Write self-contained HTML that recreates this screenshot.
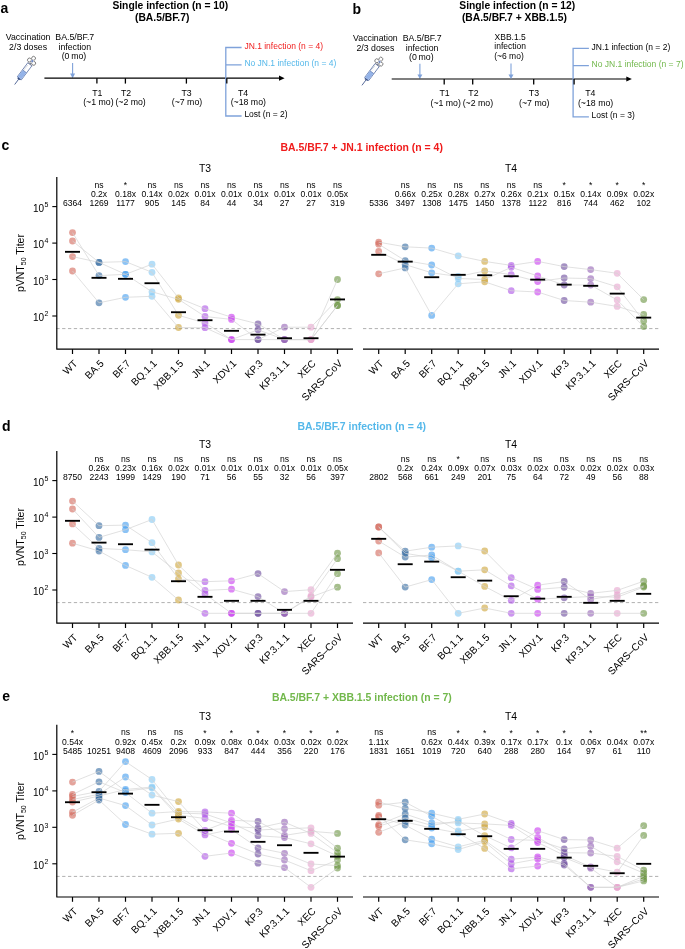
<!DOCTYPE html>
<html><head><meta charset="utf-8"><style>
html,body{margin:0;padding:0;background:#fff;}
svg{display:block;will-change:transform;}
text{font-family:"Liberation Sans", sans-serif;}
</style></head><body>
<svg width="685" height="949" viewBox="0 0 685 949" font-family='"Liberation Sans", sans-serif'>
<rect width="685" height="949" fill="#fff"/>
<text x="0.40" y="13.40" font-size="14" text-anchor="start" font-weight="bold" fill="#000" >a</text>
<text x="112.40" y="9.00" font-size="10.3" text-anchor="start" font-weight="bold" fill="#000" >Single infection (n = 10)</text>
<text x="135.00" y="20.60" font-size="10.3" text-anchor="start" font-weight="bold" fill="#000" >(BA.5/BF.7)</text>
<text x="28.10" y="40.30" font-size="8.75" text-anchor="middle" font-weight="normal" fill="#000" >Vaccination</text>
<text x="28.10" y="49.70" font-size="8.75" text-anchor="middle" font-weight="normal" fill="#000" >2/3 doses</text>
<text x="74.80" y="40.30" font-size="8.75" text-anchor="middle" font-weight="normal" fill="#000" >BA.5/BF.7</text>
<text x="74.80" y="49.70" font-size="8.75" text-anchor="middle" font-weight="normal" fill="#000" >infection</text>
<text x="74.00" y="58.90" font-size="8.75" text-anchor="middle" font-weight="normal" fill="#000" >(0 mo)</text>
<line x1="72.60" y1="63.00" x2="72.60" y2="74.70" stroke="#7fa2da" stroke-width="1.1" />
<path d="M70.10,73.60 L75.10,73.60 L72.60,78.20 Z" fill="#7fa2da"/>
<line x1="44.40" y1="78.20" x2="280.00" y2="78.20" stroke="#000" stroke-width="1.2" />
<path d="M279.00,75.60 L284.60,78.20 L279.00,80.80 Z" fill="#000"/>
<line x1="96.90" y1="78.20" x2="96.90" y2="83.60" stroke="#000" stroke-width="1.3" />
<text x="97.30" y="95.60" font-size="8.75" text-anchor="middle" font-weight="normal" fill="#000" >T1</text>
<text x="98.40" y="104.90" font-size="8.75" text-anchor="middle" font-weight="normal" fill="#000" >(~1 mo)</text>
<line x1="125.40" y1="78.20" x2="125.40" y2="83.60" stroke="#000" stroke-width="1.3" />
<text x="126.10" y="95.60" font-size="8.75" text-anchor="middle" font-weight="normal" fill="#000" >T2</text>
<text x="130.60" y="104.90" font-size="8.75" text-anchor="middle" font-weight="normal" fill="#000" >(~2 mo)</text>
<line x1="186.40" y1="78.20" x2="186.40" y2="83.60" stroke="#000" stroke-width="1.3" />
<text x="186.60" y="95.60" font-size="8.75" text-anchor="middle" font-weight="normal" fill="#000" >T3</text>
<text x="187.00" y="104.90" font-size="8.75" text-anchor="middle" font-weight="normal" fill="#000" >(~7 mo)</text>
<path d="M241.60,47.50 H225.80 V116.00 H241.60 M225.80,64.80 H241.60" fill="none" stroke="#7fa2da" stroke-width="1.3"/>
<line x1="226.80" y1="78.20" x2="226.80" y2="83.60" stroke="#000" stroke-width="1.3" />
<text x="243.00" y="95.60" font-size="8.75" text-anchor="middle" font-weight="normal" fill="#000" >T4</text>
<text x="248.30" y="104.90" font-size="8.75" text-anchor="middle" font-weight="normal" fill="#000" >(~18 mo)</text>
<g transform="translate(19.4,78.2) rotate(-53.1)">
<line x1="-7.9" y1="0" x2="-1" y2="0" stroke="#4a5f92" stroke-width="0.85"/>
<rect x="-1.3" y="-1.8" width="1.8" height="3.6" fill="#30487e"/>
<rect x="0" y="-2.55" width="17.4" height="5.1" fill="#fff" stroke="#3f5a96" stroke-width="0.65"/>
<rect x="0.3" y="-2.25" width="8.3" height="4.5" fill="#94b3e8"/>
<line x1="8.6" y1="-2.4" x2="8.6" y2="2.4" stroke="#3f5a96" stroke-width="0.5"/>
<line x1="10.4" y1="-2.2" x2="10.4" y2="-0.8" stroke="#8a94a8" stroke-width="0.4"/>
<line x1="11.9" y1="-2.2" x2="11.9" y2="-0.8" stroke="#8a94a8" stroke-width="0.4"/>
<line x1="13.4" y1="-2.2" x2="13.4" y2="-0.8" stroke="#8a94a8" stroke-width="0.4"/>
<line x1="14.9" y1="-2.2" x2="14.9" y2="-0.8" stroke="#8a94a8" stroke-width="0.4"/>
<line x1="17.7" y1="-2.9" x2="17.7" y2="2.9" stroke="#7a8090" stroke-width="0.7"/>
<line x1="17.7" y1="0" x2="19.6" y2="0" stroke="#7a8090" stroke-width="1.2"/>
<circle cx="20.6" cy="-2.9" r="1.95" fill="#fff" stroke="#6e6e6e" stroke-width="0.8"/>
<circle cx="24.4" cy="-0.6" r="1.95" fill="#fff" stroke="#6e6e6e" stroke-width="0.8"/>
<circle cx="20.5" cy="2.5" r="1.95" fill="#fff" stroke="#6e6e6e" stroke-width="0.8"/>
<circle cx="21.4" cy="0" r="1.5" fill="#fff"/>
<circle cx="21.4" cy="0" r="1.15" fill="#6f88c2"/>
</g>
<text x="244.40" y="49.00" font-size="8.5" text-anchor="start" font-weight="normal" fill="#f01c1c" >JN.1 infection (n = 4)</text>
<text x="244.40" y="66.20" font-size="8.5" text-anchor="start" font-weight="normal" fill="#55b8ea" >No JN.1 infection (n = 4)</text>
<text x="244.40" y="117.40" font-size="8.5" text-anchor="start" font-weight="normal" fill="#000" >Lost (n = 2)</text>
<text x="352.60" y="14.00" font-size="14" text-anchor="start" font-weight="bold" fill="#000" >b</text>
<text x="459.30" y="9.20" font-size="10.3" text-anchor="start" font-weight="bold" fill="#000" >Single infection (n = 12)</text>
<text x="461.90" y="20.90" font-size="10.3" text-anchor="start" font-weight="bold" fill="#000" >(BA.5/BF.7 + XBB.1.5)</text>
<text x="375.40" y="41.10" font-size="8.75" text-anchor="middle" font-weight="normal" fill="#000" >Vaccination</text>
<text x="375.40" y="50.50" font-size="8.75" text-anchor="middle" font-weight="normal" fill="#000" >2/3 doses</text>
<text x="422.10" y="41.10" font-size="8.75" text-anchor="middle" font-weight="normal" fill="#000" >BA.5/BF.7</text>
<text x="422.10" y="50.50" font-size="8.75" text-anchor="middle" font-weight="normal" fill="#000" >infection</text>
<text x="421.30" y="59.70" font-size="8.75" text-anchor="middle" font-weight="normal" fill="#000" >(0 mo)</text>
<line x1="419.90" y1="63.80" x2="419.90" y2="75.50" stroke="#7fa2da" stroke-width="1.1" />
<path d="M417.40,74.40 L422.40,74.40 L419.90,79.00 Z" fill="#7fa2da"/>
<line x1="391.70" y1="79.00" x2="627.30" y2="79.00" stroke="#000" stroke-width="1.2" />
<path d="M626.30,76.40 L631.90,79.00 L626.30,81.60 Z" fill="#000"/>
<line x1="444.20" y1="79.00" x2="444.20" y2="84.40" stroke="#000" stroke-width="1.3" />
<text x="444.60" y="96.40" font-size="8.75" text-anchor="middle" font-weight="normal" fill="#000" >T1</text>
<text x="445.70" y="105.70" font-size="8.75" text-anchor="middle" font-weight="normal" fill="#000" >(~1 mo)</text>
<line x1="472.70" y1="79.00" x2="472.70" y2="84.40" stroke="#000" stroke-width="1.3" />
<text x="473.40" y="96.40" font-size="8.75" text-anchor="middle" font-weight="normal" fill="#000" >T2</text>
<text x="477.90" y="105.70" font-size="8.75" text-anchor="middle" font-weight="normal" fill="#000" >(~2 mo)</text>
<line x1="533.70" y1="79.00" x2="533.70" y2="84.40" stroke="#000" stroke-width="1.3" />
<text x="533.90" y="96.40" font-size="8.75" text-anchor="middle" font-weight="normal" fill="#000" >T3</text>
<text x="534.30" y="105.70" font-size="8.75" text-anchor="middle" font-weight="normal" fill="#000" >(~7 mo)</text>
<path d="M588.90,48.30 H573.10 V116.80 H588.90 M573.10,65.60 H588.90" fill="none" stroke="#7fa2da" stroke-width="1.3"/>
<line x1="574.10" y1="79.00" x2="574.10" y2="84.40" stroke="#000" stroke-width="1.3" />
<text x="590.30" y="96.40" font-size="8.75" text-anchor="middle" font-weight="normal" fill="#000" >T4</text>
<text x="595.60" y="105.70" font-size="8.75" text-anchor="middle" font-weight="normal" fill="#000" >(~18 mo)</text>
<g transform="translate(366.7,79.0) rotate(-53.1)">
<line x1="-7.9" y1="0" x2="-1" y2="0" stroke="#4a5f92" stroke-width="0.85"/>
<rect x="-1.3" y="-1.8" width="1.8" height="3.6" fill="#30487e"/>
<rect x="0" y="-2.55" width="17.4" height="5.1" fill="#fff" stroke="#3f5a96" stroke-width="0.65"/>
<rect x="0.3" y="-2.25" width="8.3" height="4.5" fill="#94b3e8"/>
<line x1="8.6" y1="-2.4" x2="8.6" y2="2.4" stroke="#3f5a96" stroke-width="0.5"/>
<line x1="10.4" y1="-2.2" x2="10.4" y2="-0.8" stroke="#8a94a8" stroke-width="0.4"/>
<line x1="11.9" y1="-2.2" x2="11.9" y2="-0.8" stroke="#8a94a8" stroke-width="0.4"/>
<line x1="13.4" y1="-2.2" x2="13.4" y2="-0.8" stroke="#8a94a8" stroke-width="0.4"/>
<line x1="14.9" y1="-2.2" x2="14.9" y2="-0.8" stroke="#8a94a8" stroke-width="0.4"/>
<line x1="17.7" y1="-2.9" x2="17.7" y2="2.9" stroke="#7a8090" stroke-width="0.7"/>
<line x1="17.7" y1="0" x2="19.6" y2="0" stroke="#7a8090" stroke-width="1.2"/>
<circle cx="20.6" cy="-2.9" r="1.95" fill="#fff" stroke="#6e6e6e" stroke-width="0.8"/>
<circle cx="24.4" cy="-0.6" r="1.95" fill="#fff" stroke="#6e6e6e" stroke-width="0.8"/>
<circle cx="20.5" cy="2.5" r="1.95" fill="#fff" stroke="#6e6e6e" stroke-width="0.8"/>
<circle cx="21.4" cy="0" r="1.5" fill="#fff"/>
<circle cx="21.4" cy="0" r="1.15" fill="#6f88c2"/>
</g>
<text x="510.20" y="39.60" font-size="8.5" text-anchor="middle" font-weight="normal" fill="#000" >XBB.1.5</text>
<text x="510.20" y="49.20" font-size="8.5" text-anchor="middle" font-weight="normal" fill="#000" >infection</text>
<text x="509.00" y="58.60" font-size="8.5" text-anchor="middle" font-weight="normal" fill="#000" >(~6 mo)</text>
<line x1="511.00" y1="63.60" x2="511.00" y2="75.50" stroke="#7fa2da" stroke-width="1.1" />
<path d="M508.5,74.40 L513.5,74.40 L511,79 Z" fill="#7fa2da"/>
<text x="591.60" y="50.00" font-size="8.5" text-anchor="start" font-weight="normal" fill="#000" >JN.1 infection (n = 2)</text>
<text x="591.60" y="67.00" font-size="8.5" text-anchor="start" font-weight="normal" fill="#72b84c" >No JN.1 infection (n = 7)</text>
<text x="591.60" y="118.00" font-size="8.5" text-anchor="start" font-weight="normal" fill="#000" >Lost (n = 3)</text>
<text x="1.50" y="149.50" font-size="14" text-anchor="start" font-weight="bold" fill="#000" >c</text>
<text x="361.70" y="151.00" font-size="10.45" text-anchor="middle" font-weight="bold" fill="#f01c1c" >BA.5/BF.7 + JN.1 infection (n = 4)</text>
<line x1="56.30" y1="328.60" x2="354.00" y2="328.60" stroke="#b0b0b0" stroke-width="1" stroke-dasharray="3.3,2.54"/>
<path d="M56.8,177.00 V349.20 H353.00" fill="none" stroke="#000" stroke-width="1.2" stroke-linejoin="round"/>
<line x1="52.30" y1="206.60" x2="57.00" y2="206.60" stroke="#000" stroke-width="1.1" />
<text x="44.2" y="211.70" font-size="10" text-anchor="end">10</text>
<text x="44.4" y="206.80" font-size="7">5</text>
<line x1="52.30" y1="243.10" x2="57.00" y2="243.10" stroke="#000" stroke-width="1.1" />
<text x="44.2" y="248.20" font-size="10" text-anchor="end">10</text>
<text x="44.4" y="243.30" font-size="7">4</text>
<line x1="52.30" y1="279.50" x2="57.00" y2="279.50" stroke="#000" stroke-width="1.1" />
<text x="44.2" y="284.60" font-size="10" text-anchor="end">10</text>
<text x="44.4" y="279.70" font-size="7">3</text>
<line x1="52.30" y1="316.00" x2="57.00" y2="316.00" stroke="#000" stroke-width="1.1" />
<text x="44.2" y="321.10" font-size="10" text-anchor="end">10</text>
<text x="44.4" y="316.20" font-size="7">2</text>
<line x1="72.50" y1="349.20" x2="72.50" y2="354.00" stroke="#000" stroke-width="1.2" />
<text transform="translate(78.00,364.10) rotate(-45)" font-size="10.1" text-anchor="end">WT</text>
<line x1="99.00" y1="349.20" x2="99.00" y2="354.00" stroke="#000" stroke-width="1.2" />
<text transform="translate(104.50,364.10) rotate(-45)" font-size="10.1" text-anchor="end">BA.5</text>
<line x1="125.50" y1="349.20" x2="125.50" y2="354.00" stroke="#000" stroke-width="1.2" />
<text transform="translate(131.00,364.10) rotate(-45)" font-size="10.1" text-anchor="end">BF.7</text>
<line x1="152.00" y1="349.20" x2="152.00" y2="354.00" stroke="#000" stroke-width="1.2" />
<text transform="translate(157.50,364.10) rotate(-45)" font-size="10.1" text-anchor="end">BQ.1.1</text>
<line x1="178.50" y1="349.20" x2="178.50" y2="354.00" stroke="#000" stroke-width="1.2" />
<text transform="translate(184.00,364.10) rotate(-45)" font-size="10.1" text-anchor="end">XBB.1.5</text>
<line x1="205.00" y1="349.20" x2="205.00" y2="354.00" stroke="#000" stroke-width="1.2" />
<text transform="translate(210.50,364.10) rotate(-45)" font-size="10.1" text-anchor="end">JN.1</text>
<line x1="231.50" y1="349.20" x2="231.50" y2="354.00" stroke="#000" stroke-width="1.2" />
<text transform="translate(237.00,364.10) rotate(-45)" font-size="10.1" text-anchor="end">XDV.1</text>
<line x1="258.00" y1="349.20" x2="258.00" y2="354.00" stroke="#000" stroke-width="1.2" />
<text transform="translate(263.50,364.10) rotate(-45)" font-size="10.1" text-anchor="end">KP.3</text>
<line x1="284.50" y1="349.20" x2="284.50" y2="354.00" stroke="#000" stroke-width="1.2" />
<text transform="translate(290.00,364.10) rotate(-45)" font-size="10.1" text-anchor="end">KP.3.1.1</text>
<line x1="311.00" y1="349.20" x2="311.00" y2="354.00" stroke="#000" stroke-width="1.2" />
<text transform="translate(316.50,364.10) rotate(-45)" font-size="10.1" text-anchor="end">XEC</text>
<line x1="337.50" y1="349.20" x2="337.50" y2="354.00" stroke="#000" stroke-width="1.2" />
<text transform="translate(343.00,364.10) rotate(-45)" font-size="10.1" text-anchor="end">SARS–CoV</text>
<text x="205.00" y="171.80" font-size="10.4" text-anchor="middle" font-weight="normal" fill="#000" >T3</text>
<text x="72.50" y="206.00" font-size="8.6" text-anchor="middle" font-weight="normal" fill="#000" >6364</text>
<text x="99.00" y="187.60" font-size="8.6" text-anchor="middle" font-weight="normal" fill="#000" >ns</text>
<text x="99.00" y="196.90" font-size="8.6" text-anchor="middle" font-weight="normal" fill="#000" >0.2x</text>
<text x="99.00" y="206.00" font-size="8.6" text-anchor="middle" font-weight="normal" fill="#000" >1269</text>
<text x="125.50" y="187.90" font-size="8.6" text-anchor="middle" font-weight="normal" fill="#000" >*</text>
<text x="125.50" y="196.90" font-size="8.6" text-anchor="middle" font-weight="normal" fill="#000" >0.18x</text>
<text x="125.50" y="206.00" font-size="8.6" text-anchor="middle" font-weight="normal" fill="#000" >1177</text>
<text x="152.00" y="187.60" font-size="8.6" text-anchor="middle" font-weight="normal" fill="#000" >ns</text>
<text x="152.00" y="196.90" font-size="8.6" text-anchor="middle" font-weight="normal" fill="#000" >0.14x</text>
<text x="152.00" y="206.00" font-size="8.6" text-anchor="middle" font-weight="normal" fill="#000" >905</text>
<text x="178.50" y="187.60" font-size="8.6" text-anchor="middle" font-weight="normal" fill="#000" >ns</text>
<text x="178.50" y="196.90" font-size="8.6" text-anchor="middle" font-weight="normal" fill="#000" >0.02x</text>
<text x="178.50" y="206.00" font-size="8.6" text-anchor="middle" font-weight="normal" fill="#000" >145</text>
<text x="205.00" y="187.60" font-size="8.6" text-anchor="middle" font-weight="normal" fill="#000" >ns</text>
<text x="205.00" y="196.90" font-size="8.6" text-anchor="middle" font-weight="normal" fill="#000" >0.01x</text>
<text x="205.00" y="206.00" font-size="8.6" text-anchor="middle" font-weight="normal" fill="#000" >84</text>
<text x="231.50" y="187.60" font-size="8.6" text-anchor="middle" font-weight="normal" fill="#000" >ns</text>
<text x="231.50" y="196.90" font-size="8.6" text-anchor="middle" font-weight="normal" fill="#000" >0.01x</text>
<text x="231.50" y="206.00" font-size="8.6" text-anchor="middle" font-weight="normal" fill="#000" >44</text>
<text x="258.00" y="187.60" font-size="8.6" text-anchor="middle" font-weight="normal" fill="#000" >ns</text>
<text x="258.00" y="196.90" font-size="8.6" text-anchor="middle" font-weight="normal" fill="#000" >0.01x</text>
<text x="258.00" y="206.00" font-size="8.6" text-anchor="middle" font-weight="normal" fill="#000" >34</text>
<text x="284.50" y="187.60" font-size="8.6" text-anchor="middle" font-weight="normal" fill="#000" >ns</text>
<text x="284.50" y="196.90" font-size="8.6" text-anchor="middle" font-weight="normal" fill="#000" >0.01x</text>
<text x="284.50" y="206.00" font-size="8.6" text-anchor="middle" font-weight="normal" fill="#000" >27</text>
<text x="311.00" y="187.60" font-size="8.6" text-anchor="middle" font-weight="normal" fill="#000" >ns</text>
<text x="311.00" y="196.90" font-size="8.6" text-anchor="middle" font-weight="normal" fill="#000" >0.01x</text>
<text x="311.00" y="206.00" font-size="8.6" text-anchor="middle" font-weight="normal" fill="#000" >27</text>
<text x="337.50" y="187.60" font-size="8.6" text-anchor="middle" font-weight="normal" fill="#000" >ns</text>
<text x="337.50" y="196.90" font-size="8.6" text-anchor="middle" font-weight="normal" fill="#000" >0.05x</text>
<text x="337.50" y="206.00" font-size="8.6" text-anchor="middle" font-weight="normal" fill="#000" >319</text>
<circle cx="72.50" cy="232.60" r="3.4" fill="rgb(210,102,88)" fill-opacity="0.6"/>
<circle cx="72.50" cy="241.00" r="3.4" fill="rgb(210,102,88)" fill-opacity="0.6"/>
<circle cx="72.50" cy="256.60" r="3.4" fill="rgb(210,102,88)" fill-opacity="0.6"/>
<circle cx="72.50" cy="271.00" r="3.4" fill="rgb(210,102,88)" fill-opacity="0.6"/>
<circle cx="99.00" cy="275.60" r="3.4" fill="rgb(50,105,160)" fill-opacity="0.6"/>
<circle cx="99.00" cy="262.40" r="3.4" fill="rgb(50,105,160)" fill-opacity="0.6"/>
<circle cx="99.00" cy="262.40" r="3.4" fill="rgb(50,105,160)" fill-opacity="0.6"/>
<circle cx="99.00" cy="302.80" r="3.4" fill="rgb(50,105,160)" fill-opacity="0.6"/>
<circle cx="125.50" cy="274.30" r="3.4" fill="rgb(63,155,238)" fill-opacity="0.6"/>
<circle cx="125.50" cy="261.60" r="3.4" fill="rgb(63,155,238)" fill-opacity="0.6"/>
<circle cx="125.50" cy="274.30" r="3.4" fill="rgb(63,155,238)" fill-opacity="0.6"/>
<circle cx="125.50" cy="297.30" r="3.4" fill="rgb(63,155,238)" fill-opacity="0.6"/>
<circle cx="152.00" cy="291.80" r="3.4" fill="rgb(130,200,243)" fill-opacity="0.6"/>
<circle cx="152.00" cy="272.30" r="3.4" fill="rgb(130,200,243)" fill-opacity="0.6"/>
<circle cx="152.00" cy="264.20" r="3.4" fill="rgb(130,200,243)" fill-opacity="0.6"/>
<circle cx="152.00" cy="296.30" r="3.4" fill="rgb(130,200,243)" fill-opacity="0.6"/>
<circle cx="178.50" cy="299.30" r="3.4" fill="rgb(205,163,55)" fill-opacity="0.6"/>
<circle cx="178.50" cy="315.30" r="3.4" fill="rgb(205,163,55)" fill-opacity="0.6"/>
<circle cx="178.50" cy="298.00" r="3.4" fill="rgb(205,163,55)" fill-opacity="0.6"/>
<circle cx="178.50" cy="327.50" r="3.4" fill="rgb(205,163,55)" fill-opacity="0.6"/>
<circle cx="205.00" cy="316.50" r="3.4" fill="rgb(172,80,230)" fill-opacity="0.6"/>
<circle cx="205.00" cy="323.00" r="3.4" fill="rgb(172,80,230)" fill-opacity="0.6"/>
<circle cx="205.00" cy="308.70" r="3.4" fill="rgb(172,80,230)" fill-opacity="0.6"/>
<circle cx="205.00" cy="327.70" r="3.4" fill="rgb(172,80,230)" fill-opacity="0.6"/>
<circle cx="231.50" cy="319.40" r="3.4" fill="rgb(200,55,240)" fill-opacity="0.6"/>
<circle cx="231.50" cy="339.60" r="3.4" fill="rgb(200,55,240)" fill-opacity="0.6"/>
<circle cx="231.50" cy="317.20" r="3.4" fill="rgb(200,55,240)" fill-opacity="0.6"/>
<circle cx="231.50" cy="339.60" r="3.4" fill="rgb(200,55,240)" fill-opacity="0.6"/>
<circle cx="258.00" cy="339.60" r="3.4" fill="rgb(105,72,155)" fill-opacity="0.6"/>
<circle cx="258.00" cy="329.80" r="3.4" fill="rgb(105,72,155)" fill-opacity="0.6"/>
<circle cx="258.00" cy="323.90" r="3.4" fill="rgb(105,72,155)" fill-opacity="0.6"/>
<circle cx="258.00" cy="339.60" r="3.4" fill="rgb(105,72,155)" fill-opacity="0.6"/>
<circle cx="284.50" cy="327.20" r="3.4" fill="rgb(147,97,180)" fill-opacity="0.6"/>
<circle cx="284.50" cy="339.60" r="3.4" fill="rgb(147,97,180)" fill-opacity="0.6"/>
<circle cx="284.50" cy="339.60" r="3.4" fill="rgb(147,97,180)" fill-opacity="0.6"/>
<circle cx="284.50" cy="339.60" r="3.4" fill="rgb(147,97,180)" fill-opacity="0.6"/>
<circle cx="311.00" cy="327.20" r="3.4" fill="rgb(230,163,205)" fill-opacity="0.6"/>
<circle cx="311.00" cy="339.60" r="3.4" fill="rgb(230,163,205)" fill-opacity="0.6"/>
<circle cx="311.00" cy="339.60" r="3.4" fill="rgb(230,163,205)" fill-opacity="0.6"/>
<circle cx="311.00" cy="339.60" r="3.4" fill="rgb(230,163,205)" fill-opacity="0.6"/>
<circle cx="337.50" cy="299.60" r="3.4" fill="rgb(105,147,63)" fill-opacity="0.6"/>
<circle cx="337.50" cy="305.50" r="3.4" fill="rgb(105,147,63)" fill-opacity="0.6"/>
<circle cx="337.50" cy="279.50" r="3.4" fill="rgb(105,147,63)" fill-opacity="0.6"/>
<circle cx="337.50" cy="305.50" r="3.4" fill="rgb(105,147,63)" fill-opacity="0.6"/>
<polyline points="72.50,232.60 99.00,275.60 125.50,274.30 152.00,291.80 178.50,299.30 205.00,316.50 231.50,319.40 258.00,339.60 284.50,327.20 311.00,327.20 337.50,299.60" fill="none" stroke="#d4d4d4" stroke-width="0.7"/>
<polyline points="72.50,241.00 99.00,262.40 125.50,261.60 152.00,272.30 178.50,315.30 205.00,323.00 231.50,339.60 258.00,329.80 284.50,339.60 311.00,339.60 337.50,305.50" fill="none" stroke="#d4d4d4" stroke-width="0.7"/>
<polyline points="72.50,256.60 99.00,262.40 125.50,274.30 152.00,264.20 178.50,298.00 205.00,308.70 231.50,317.20 258.00,323.90 284.50,339.60 311.00,339.60 337.50,279.50" fill="none" stroke="#d4d4d4" stroke-width="0.7"/>
<polyline points="72.50,271.00 99.00,302.80 125.50,297.30 152.00,296.30 178.50,327.50 205.00,327.70 231.50,339.60 258.00,339.60 284.50,339.60 311.00,339.60 337.50,305.50" fill="none" stroke="#d4d4d4" stroke-width="0.7"/>
<rect x="65.00" y="250.90" width="15" height="1.85" fill="#000"/>
<rect x="91.50" y="276.90" width="15" height="1.85" fill="#000"/>
<rect x="118.00" y="277.90" width="15" height="1.85" fill="#000"/>
<rect x="144.50" y="282.30" width="15" height="1.85" fill="#000"/>
<rect x="171.00" y="311.30" width="15" height="1.85" fill="#000"/>
<rect x="197.50" y="319.30" width="15" height="1.85" fill="#000"/>
<rect x="224.00" y="329.90" width="15" height="1.85" fill="#000"/>
<rect x="250.50" y="333.70" width="15" height="1.85" fill="#000"/>
<rect x="277.00" y="337.30" width="15" height="1.85" fill="#000"/>
<rect x="303.50" y="337.30" width="15" height="1.85" fill="#000"/>
<rect x="330.00" y="298.50" width="15" height="1.85" fill="#000"/>
<line x1="363.00" y1="328.60" x2="660.00" y2="328.60" stroke="#b0b0b0" stroke-width="1" stroke-dasharray="3.3,2.54"/>
<line x1="363.00" y1="349.20" x2="659.00" y2="349.20" stroke="#000" stroke-width="1.2" />
<line x1="378.70" y1="349.20" x2="378.70" y2="354.00" stroke="#000" stroke-width="1.2" />
<text transform="translate(384.20,364.10) rotate(-45)" font-size="10.1" text-anchor="end">WT</text>
<line x1="405.20" y1="349.20" x2="405.20" y2="354.00" stroke="#000" stroke-width="1.2" />
<text transform="translate(410.70,364.10) rotate(-45)" font-size="10.1" text-anchor="end">BA.5</text>
<line x1="431.70" y1="349.20" x2="431.70" y2="354.00" stroke="#000" stroke-width="1.2" />
<text transform="translate(437.20,364.10) rotate(-45)" font-size="10.1" text-anchor="end">BF.7</text>
<line x1="458.20" y1="349.20" x2="458.20" y2="354.00" stroke="#000" stroke-width="1.2" />
<text transform="translate(463.70,364.10) rotate(-45)" font-size="10.1" text-anchor="end">BQ.1.1</text>
<line x1="484.70" y1="349.20" x2="484.70" y2="354.00" stroke="#000" stroke-width="1.2" />
<text transform="translate(490.20,364.10) rotate(-45)" font-size="10.1" text-anchor="end">XBB.1.5</text>
<line x1="511.20" y1="349.20" x2="511.20" y2="354.00" stroke="#000" stroke-width="1.2" />
<text transform="translate(516.70,364.10) rotate(-45)" font-size="10.1" text-anchor="end">JN.1</text>
<line x1="537.70" y1="349.20" x2="537.70" y2="354.00" stroke="#000" stroke-width="1.2" />
<text transform="translate(543.20,364.10) rotate(-45)" font-size="10.1" text-anchor="end">XDV.1</text>
<line x1="564.20" y1="349.20" x2="564.20" y2="354.00" stroke="#000" stroke-width="1.2" />
<text transform="translate(569.70,364.10) rotate(-45)" font-size="10.1" text-anchor="end">KP.3</text>
<line x1="590.70" y1="349.20" x2="590.70" y2="354.00" stroke="#000" stroke-width="1.2" />
<text transform="translate(596.20,364.10) rotate(-45)" font-size="10.1" text-anchor="end">KP.3.1.1</text>
<line x1="617.20" y1="349.20" x2="617.20" y2="354.00" stroke="#000" stroke-width="1.2" />
<text transform="translate(622.70,364.10) rotate(-45)" font-size="10.1" text-anchor="end">XEC</text>
<line x1="643.70" y1="349.20" x2="643.70" y2="354.00" stroke="#000" stroke-width="1.2" />
<text transform="translate(649.20,364.10) rotate(-45)" font-size="10.1" text-anchor="end">SARS–CoV</text>
<text x="511.00" y="171.80" font-size="10.4" text-anchor="middle" font-weight="normal" fill="#000" >T4</text>
<text x="378.70" y="206.00" font-size="8.6" text-anchor="middle" font-weight="normal" fill="#000" >5336</text>
<text x="405.20" y="187.60" font-size="8.6" text-anchor="middle" font-weight="normal" fill="#000" >ns</text>
<text x="405.20" y="196.90" font-size="8.6" text-anchor="middle" font-weight="normal" fill="#000" >0.66x</text>
<text x="405.20" y="206.00" font-size="8.6" text-anchor="middle" font-weight="normal" fill="#000" >3497</text>
<text x="431.70" y="187.60" font-size="8.6" text-anchor="middle" font-weight="normal" fill="#000" >ns</text>
<text x="431.70" y="196.90" font-size="8.6" text-anchor="middle" font-weight="normal" fill="#000" >0.25x</text>
<text x="431.70" y="206.00" font-size="8.6" text-anchor="middle" font-weight="normal" fill="#000" >1308</text>
<text x="458.20" y="187.60" font-size="8.6" text-anchor="middle" font-weight="normal" fill="#000" >ns</text>
<text x="458.20" y="196.90" font-size="8.6" text-anchor="middle" font-weight="normal" fill="#000" >0.28x</text>
<text x="458.20" y="206.00" font-size="8.6" text-anchor="middle" font-weight="normal" fill="#000" >1475</text>
<text x="484.70" y="187.60" font-size="8.6" text-anchor="middle" font-weight="normal" fill="#000" >ns</text>
<text x="484.70" y="196.90" font-size="8.6" text-anchor="middle" font-weight="normal" fill="#000" >0.27x</text>
<text x="484.70" y="206.00" font-size="8.6" text-anchor="middle" font-weight="normal" fill="#000" >1450</text>
<text x="511.20" y="187.60" font-size="8.6" text-anchor="middle" font-weight="normal" fill="#000" >ns</text>
<text x="511.20" y="196.90" font-size="8.6" text-anchor="middle" font-weight="normal" fill="#000" >0.26x</text>
<text x="511.20" y="206.00" font-size="8.6" text-anchor="middle" font-weight="normal" fill="#000" >1378</text>
<text x="537.70" y="187.60" font-size="8.6" text-anchor="middle" font-weight="normal" fill="#000" >ns</text>
<text x="537.70" y="196.90" font-size="8.6" text-anchor="middle" font-weight="normal" fill="#000" >0.21x</text>
<text x="537.70" y="206.00" font-size="8.6" text-anchor="middle" font-weight="normal" fill="#000" >1122</text>
<text x="564.20" y="187.90" font-size="8.6" text-anchor="middle" font-weight="normal" fill="#000" >*</text>
<text x="564.20" y="196.90" font-size="8.6" text-anchor="middle" font-weight="normal" fill="#000" >0.15x</text>
<text x="564.20" y="206.00" font-size="8.6" text-anchor="middle" font-weight="normal" fill="#000" >816</text>
<text x="590.70" y="187.90" font-size="8.6" text-anchor="middle" font-weight="normal" fill="#000" >*</text>
<text x="590.70" y="196.90" font-size="8.6" text-anchor="middle" font-weight="normal" fill="#000" >0.14x</text>
<text x="590.70" y="206.00" font-size="8.6" text-anchor="middle" font-weight="normal" fill="#000" >744</text>
<text x="617.20" y="187.90" font-size="8.6" text-anchor="middle" font-weight="normal" fill="#000" >*</text>
<text x="617.20" y="196.90" font-size="8.6" text-anchor="middle" font-weight="normal" fill="#000" >0.09x</text>
<text x="617.20" y="206.00" font-size="8.6" text-anchor="middle" font-weight="normal" fill="#000" >462</text>
<text x="643.70" y="187.90" font-size="8.6" text-anchor="middle" font-weight="normal" fill="#000" >*</text>
<text x="643.70" y="196.90" font-size="8.6" text-anchor="middle" font-weight="normal" fill="#000" >0.02x</text>
<text x="643.70" y="206.00" font-size="8.6" text-anchor="middle" font-weight="normal" fill="#000" >102</text>
<circle cx="378.70" cy="242.20" r="3.4" fill="rgb(210,102,88)" fill-opacity="0.6"/>
<circle cx="378.70" cy="244.20" r="3.4" fill="rgb(210,102,88)" fill-opacity="0.6"/>
<circle cx="378.70" cy="251.40" r="3.4" fill="rgb(210,102,88)" fill-opacity="0.6"/>
<circle cx="378.70" cy="273.80" r="3.4" fill="rgb(210,102,88)" fill-opacity="0.6"/>
<circle cx="405.20" cy="246.80" r="3.4" fill="rgb(50,105,160)" fill-opacity="0.6"/>
<circle cx="405.20" cy="260.60" r="3.4" fill="rgb(50,105,160)" fill-opacity="0.6"/>
<circle cx="405.20" cy="264.60" r="3.4" fill="rgb(50,105,160)" fill-opacity="0.6"/>
<circle cx="405.20" cy="267.90" r="3.4" fill="rgb(50,105,160)" fill-opacity="0.6"/>
<circle cx="431.70" cy="248.10" r="3.4" fill="rgb(63,155,238)" fill-opacity="0.6"/>
<circle cx="431.70" cy="265.00" r="3.4" fill="rgb(63,155,238)" fill-opacity="0.6"/>
<circle cx="431.70" cy="272.80" r="3.4" fill="rgb(63,155,238)" fill-opacity="0.6"/>
<circle cx="431.70" cy="315.40" r="3.4" fill="rgb(63,155,238)" fill-opacity="0.6"/>
<circle cx="458.20" cy="255.80" r="3.4" fill="rgb(130,200,243)" fill-opacity="0.6"/>
<circle cx="458.20" cy="278.50" r="3.4" fill="rgb(130,200,243)" fill-opacity="0.6"/>
<circle cx="458.20" cy="276.50" r="3.4" fill="rgb(130,200,243)" fill-opacity="0.6"/>
<circle cx="458.20" cy="283.80" r="3.4" fill="rgb(130,200,243)" fill-opacity="0.6"/>
<circle cx="484.70" cy="261.40" r="3.4" fill="rgb(205,163,55)" fill-opacity="0.6"/>
<circle cx="484.70" cy="279.40" r="3.4" fill="rgb(205,163,55)" fill-opacity="0.6"/>
<circle cx="484.70" cy="271.00" r="3.4" fill="rgb(205,163,55)" fill-opacity="0.6"/>
<circle cx="484.70" cy="281.80" r="3.4" fill="rgb(205,163,55)" fill-opacity="0.6"/>
<circle cx="511.20" cy="265.40" r="3.4" fill="rgb(172,80,230)" fill-opacity="0.6"/>
<circle cx="511.20" cy="267.30" r="3.4" fill="rgb(172,80,230)" fill-opacity="0.6"/>
<circle cx="511.20" cy="274.60" r="3.4" fill="rgb(172,80,230)" fill-opacity="0.6"/>
<circle cx="511.20" cy="290.70" r="3.4" fill="rgb(172,80,230)" fill-opacity="0.6"/>
<circle cx="537.70" cy="261.40" r="3.4" fill="rgb(200,55,240)" fill-opacity="0.6"/>
<circle cx="537.70" cy="275.90" r="3.4" fill="rgb(200,55,240)" fill-opacity="0.6"/>
<circle cx="537.70" cy="281.50" r="3.4" fill="rgb(200,55,240)" fill-opacity="0.6"/>
<circle cx="537.70" cy="292.00" r="3.4" fill="rgb(200,55,240)" fill-opacity="0.6"/>
<circle cx="564.20" cy="266.60" r="3.4" fill="rgb(105,72,155)" fill-opacity="0.6"/>
<circle cx="564.20" cy="285.00" r="3.4" fill="rgb(105,72,155)" fill-opacity="0.6"/>
<circle cx="564.20" cy="278.00" r="3.4" fill="rgb(105,72,155)" fill-opacity="0.6"/>
<circle cx="564.20" cy="300.50" r="3.4" fill="rgb(105,72,155)" fill-opacity="0.6"/>
<circle cx="590.70" cy="269.60" r="3.4" fill="rgb(147,97,180)" fill-opacity="0.6"/>
<circle cx="590.70" cy="285.00" r="3.4" fill="rgb(147,97,180)" fill-opacity="0.6"/>
<circle cx="590.70" cy="278.60" r="3.4" fill="rgb(147,97,180)" fill-opacity="0.6"/>
<circle cx="590.70" cy="302.20" r="3.4" fill="rgb(147,97,180)" fill-opacity="0.6"/>
<circle cx="617.20" cy="273.30" r="3.4" fill="rgb(230,163,205)" fill-opacity="0.6"/>
<circle cx="617.20" cy="300.00" r="3.4" fill="rgb(230,163,205)" fill-opacity="0.6"/>
<circle cx="617.20" cy="286.80" r="3.4" fill="rgb(230,163,205)" fill-opacity="0.6"/>
<circle cx="617.20" cy="306.40" r="3.4" fill="rgb(230,163,205)" fill-opacity="0.6"/>
<circle cx="643.70" cy="299.60" r="3.4" fill="rgb(105,147,63)" fill-opacity="0.6"/>
<circle cx="643.70" cy="326.60" r="3.4" fill="rgb(105,147,63)" fill-opacity="0.6"/>
<circle cx="643.70" cy="321.00" r="3.4" fill="rgb(105,147,63)" fill-opacity="0.6"/>
<circle cx="643.70" cy="314.50" r="3.4" fill="rgb(105,147,63)" fill-opacity="0.6"/>
<polyline points="378.70,242.20 405.20,246.80 431.70,248.10 458.20,255.80 484.70,261.40 511.20,265.40 537.70,261.40 564.20,266.60 590.70,269.60 617.20,273.30 643.70,299.60" fill="none" stroke="#d4d4d4" stroke-width="0.7"/>
<polyline points="378.70,244.20 405.20,260.60 431.70,265.00 458.20,278.50 484.70,279.40 511.20,267.30 537.70,275.90 564.20,285.00 590.70,285.00 617.20,300.00 643.70,326.60" fill="none" stroke="#d4d4d4" stroke-width="0.7"/>
<polyline points="378.70,251.40 405.20,264.60 431.70,272.80 458.20,276.50 484.70,271.00 511.20,274.60 537.70,281.50 564.20,278.00 590.70,278.60 617.20,286.80 643.70,321.00" fill="none" stroke="#d4d4d4" stroke-width="0.7"/>
<polyline points="378.70,273.80 405.20,267.90 431.70,315.40 458.20,283.80 484.70,281.80 511.20,290.70 537.70,292.00 564.20,300.50 590.70,302.20 617.20,306.40 643.70,314.50" fill="none" stroke="#d4d4d4" stroke-width="0.7"/>
<rect x="371.20" y="253.90" width="15" height="1.85" fill="#000"/>
<rect x="397.70" y="260.70" width="15" height="1.85" fill="#000"/>
<rect x="424.20" y="276.30" width="15" height="1.85" fill="#000"/>
<rect x="450.70" y="273.90" width="15" height="1.85" fill="#000"/>
<rect x="477.20" y="274.30" width="15" height="1.85" fill="#000"/>
<rect x="503.70" y="275.30" width="15" height="1.85" fill="#000"/>
<rect x="530.20" y="278.70" width="15" height="1.85" fill="#000"/>
<rect x="556.70" y="283.70" width="15" height="1.85" fill="#000"/>
<rect x="583.20" y="284.90" width="15" height="1.85" fill="#000"/>
<rect x="609.70" y="292.70" width="15" height="1.85" fill="#000"/>
<rect x="636.20" y="316.70" width="15" height="1.85" fill="#000"/>
<text x="2.00" y="430.80" font-size="14" text-anchor="start" font-weight="bold" fill="#000" >d</text>
<text x="361.70" y="429.80" font-size="10.45" text-anchor="middle" font-weight="bold" fill="#55b8ea" >BA.5/BF.7 infection (n = 4)</text>
<line x1="56.30" y1="602.60" x2="354.00" y2="602.60" stroke="#b0b0b0" stroke-width="1" stroke-dasharray="3.3,2.54"/>
<path d="M56.8,451.00 V623.20 H353.00" fill="none" stroke="#000" stroke-width="1.2" stroke-linejoin="round"/>
<line x1="52.30" y1="480.60" x2="57.00" y2="480.60" stroke="#000" stroke-width="1.1" />
<text x="44.2" y="485.70" font-size="10" text-anchor="end">10</text>
<text x="44.4" y="480.80" font-size="7">5</text>
<line x1="52.30" y1="517.10" x2="57.00" y2="517.10" stroke="#000" stroke-width="1.1" />
<text x="44.2" y="522.20" font-size="10" text-anchor="end">10</text>
<text x="44.4" y="517.30" font-size="7">4</text>
<line x1="52.30" y1="553.50" x2="57.00" y2="553.50" stroke="#000" stroke-width="1.1" />
<text x="44.2" y="558.60" font-size="10" text-anchor="end">10</text>
<text x="44.4" y="553.70" font-size="7">3</text>
<line x1="52.30" y1="590.00" x2="57.00" y2="590.00" stroke="#000" stroke-width="1.1" />
<text x="44.2" y="595.10" font-size="10" text-anchor="end">10</text>
<text x="44.4" y="590.20" font-size="7">2</text>
<line x1="72.50" y1="623.20" x2="72.50" y2="628.00" stroke="#000" stroke-width="1.2" />
<text transform="translate(78.00,638.10) rotate(-45)" font-size="10.1" text-anchor="end">WT</text>
<line x1="99.00" y1="623.20" x2="99.00" y2="628.00" stroke="#000" stroke-width="1.2" />
<text transform="translate(104.50,638.10) rotate(-45)" font-size="10.1" text-anchor="end">BA.5</text>
<line x1="125.50" y1="623.20" x2="125.50" y2="628.00" stroke="#000" stroke-width="1.2" />
<text transform="translate(131.00,638.10) rotate(-45)" font-size="10.1" text-anchor="end">BF.7</text>
<line x1="152.00" y1="623.20" x2="152.00" y2="628.00" stroke="#000" stroke-width="1.2" />
<text transform="translate(157.50,638.10) rotate(-45)" font-size="10.1" text-anchor="end">BQ.1.1</text>
<line x1="178.50" y1="623.20" x2="178.50" y2="628.00" stroke="#000" stroke-width="1.2" />
<text transform="translate(184.00,638.10) rotate(-45)" font-size="10.1" text-anchor="end">XBB.1.5</text>
<line x1="205.00" y1="623.20" x2="205.00" y2="628.00" stroke="#000" stroke-width="1.2" />
<text transform="translate(210.50,638.10) rotate(-45)" font-size="10.1" text-anchor="end">JN.1</text>
<line x1="231.50" y1="623.20" x2="231.50" y2="628.00" stroke="#000" stroke-width="1.2" />
<text transform="translate(237.00,638.10) rotate(-45)" font-size="10.1" text-anchor="end">XDV.1</text>
<line x1="258.00" y1="623.20" x2="258.00" y2="628.00" stroke="#000" stroke-width="1.2" />
<text transform="translate(263.50,638.10) rotate(-45)" font-size="10.1" text-anchor="end">KP.3</text>
<line x1="284.50" y1="623.20" x2="284.50" y2="628.00" stroke="#000" stroke-width="1.2" />
<text transform="translate(290.00,638.10) rotate(-45)" font-size="10.1" text-anchor="end">KP.3.1.1</text>
<line x1="311.00" y1="623.20" x2="311.00" y2="628.00" stroke="#000" stroke-width="1.2" />
<text transform="translate(316.50,638.10) rotate(-45)" font-size="10.1" text-anchor="end">XEC</text>
<line x1="337.50" y1="623.20" x2="337.50" y2="628.00" stroke="#000" stroke-width="1.2" />
<text transform="translate(343.00,638.10) rotate(-45)" font-size="10.1" text-anchor="end">SARS–CoV</text>
<text x="205.00" y="447.70" font-size="10.4" text-anchor="middle" font-weight="normal" fill="#000" >T3</text>
<text x="72.50" y="480.00" font-size="8.6" text-anchor="middle" font-weight="normal" fill="#000" >8750</text>
<text x="99.00" y="461.60" font-size="8.6" text-anchor="middle" font-weight="normal" fill="#000" >ns</text>
<text x="99.00" y="470.90" font-size="8.6" text-anchor="middle" font-weight="normal" fill="#000" >0.26x</text>
<text x="99.00" y="480.00" font-size="8.6" text-anchor="middle" font-weight="normal" fill="#000" >2243</text>
<text x="125.50" y="461.60" font-size="8.6" text-anchor="middle" font-weight="normal" fill="#000" >ns</text>
<text x="125.50" y="470.90" font-size="8.6" text-anchor="middle" font-weight="normal" fill="#000" >0.23x</text>
<text x="125.50" y="480.00" font-size="8.6" text-anchor="middle" font-weight="normal" fill="#000" >1999</text>
<text x="152.00" y="461.60" font-size="8.6" text-anchor="middle" font-weight="normal" fill="#000" >ns</text>
<text x="152.00" y="470.90" font-size="8.6" text-anchor="middle" font-weight="normal" fill="#000" >0.16x</text>
<text x="152.00" y="480.00" font-size="8.6" text-anchor="middle" font-weight="normal" fill="#000" >1429</text>
<text x="178.50" y="461.60" font-size="8.6" text-anchor="middle" font-weight="normal" fill="#000" >ns</text>
<text x="178.50" y="470.90" font-size="8.6" text-anchor="middle" font-weight="normal" fill="#000" >0.02x</text>
<text x="178.50" y="480.00" font-size="8.6" text-anchor="middle" font-weight="normal" fill="#000" >190</text>
<text x="205.00" y="461.60" font-size="8.6" text-anchor="middle" font-weight="normal" fill="#000" >ns</text>
<text x="205.00" y="470.90" font-size="8.6" text-anchor="middle" font-weight="normal" fill="#000" >0.01x</text>
<text x="205.00" y="480.00" font-size="8.6" text-anchor="middle" font-weight="normal" fill="#000" >71</text>
<text x="231.50" y="461.60" font-size="8.6" text-anchor="middle" font-weight="normal" fill="#000" >ns</text>
<text x="231.50" y="470.90" font-size="8.6" text-anchor="middle" font-weight="normal" fill="#000" >0.01x</text>
<text x="231.50" y="480.00" font-size="8.6" text-anchor="middle" font-weight="normal" fill="#000" >56</text>
<text x="258.00" y="461.60" font-size="8.6" text-anchor="middle" font-weight="normal" fill="#000" >ns</text>
<text x="258.00" y="470.90" font-size="8.6" text-anchor="middle" font-weight="normal" fill="#000" >0.01x</text>
<text x="258.00" y="480.00" font-size="8.6" text-anchor="middle" font-weight="normal" fill="#000" >55</text>
<text x="284.50" y="461.60" font-size="8.6" text-anchor="middle" font-weight="normal" fill="#000" >ns</text>
<text x="284.50" y="470.90" font-size="8.6" text-anchor="middle" font-weight="normal" fill="#000" >0.01x</text>
<text x="284.50" y="480.00" font-size="8.6" text-anchor="middle" font-weight="normal" fill="#000" >32</text>
<text x="311.00" y="461.60" font-size="8.6" text-anchor="middle" font-weight="normal" fill="#000" >ns</text>
<text x="311.00" y="470.90" font-size="8.6" text-anchor="middle" font-weight="normal" fill="#000" >0.01x</text>
<text x="311.00" y="480.00" font-size="8.6" text-anchor="middle" font-weight="normal" fill="#000" >56</text>
<text x="337.50" y="461.60" font-size="8.6" text-anchor="middle" font-weight="normal" fill="#000" >ns</text>
<text x="337.50" y="470.90" font-size="8.6" text-anchor="middle" font-weight="normal" fill="#000" >0.05x</text>
<text x="337.50" y="480.00" font-size="8.6" text-anchor="middle" font-weight="normal" fill="#000" >397</text>
<circle cx="72.50" cy="501.10" r="3.4" fill="rgb(210,102,88)" fill-opacity="0.6"/>
<circle cx="72.50" cy="509.00" r="3.4" fill="rgb(210,102,88)" fill-opacity="0.6"/>
<circle cx="72.50" cy="523.90" r="3.4" fill="rgb(210,102,88)" fill-opacity="0.6"/>
<circle cx="72.50" cy="543.20" r="3.4" fill="rgb(210,102,88)" fill-opacity="0.6"/>
<circle cx="99.00" cy="525.70" r="3.4" fill="rgb(50,105,160)" fill-opacity="0.6"/>
<circle cx="99.00" cy="537.40" r="3.4" fill="rgb(50,105,160)" fill-opacity="0.6"/>
<circle cx="99.00" cy="548.40" r="3.4" fill="rgb(50,105,160)" fill-opacity="0.6"/>
<circle cx="99.00" cy="551.00" r="3.4" fill="rgb(50,105,160)" fill-opacity="0.6"/>
<circle cx="125.50" cy="525.10" r="3.4" fill="rgb(63,155,238)" fill-opacity="0.6"/>
<circle cx="125.50" cy="529.70" r="3.4" fill="rgb(63,155,238)" fill-opacity="0.6"/>
<circle cx="125.50" cy="549.70" r="3.4" fill="rgb(63,155,238)" fill-opacity="0.6"/>
<circle cx="125.50" cy="565.40" r="3.4" fill="rgb(63,155,238)" fill-opacity="0.6"/>
<circle cx="152.00" cy="542.70" r="3.4" fill="rgb(130,200,243)" fill-opacity="0.6"/>
<circle cx="152.00" cy="519.50" r="3.4" fill="rgb(130,200,243)" fill-opacity="0.6"/>
<circle cx="152.00" cy="551.90" r="3.4" fill="rgb(130,200,243)" fill-opacity="0.6"/>
<circle cx="152.00" cy="577.30" r="3.4" fill="rgb(130,200,243)" fill-opacity="0.6"/>
<circle cx="178.50" cy="579.00" r="3.4" fill="rgb(205,163,55)" fill-opacity="0.6"/>
<circle cx="178.50" cy="565.00" r="3.4" fill="rgb(205,163,55)" fill-opacity="0.6"/>
<circle cx="178.50" cy="572.90" r="3.4" fill="rgb(205,163,55)" fill-opacity="0.6"/>
<circle cx="178.50" cy="600.00" r="3.4" fill="rgb(205,163,55)" fill-opacity="0.6"/>
<circle cx="205.00" cy="581.70" r="3.4" fill="rgb(172,80,230)" fill-opacity="0.6"/>
<circle cx="205.00" cy="590.40" r="3.4" fill="rgb(172,80,230)" fill-opacity="0.6"/>
<circle cx="205.00" cy="594.00" r="3.4" fill="rgb(172,80,230)" fill-opacity="0.6"/>
<circle cx="205.00" cy="613.30" r="3.4" fill="rgb(172,80,230)" fill-opacity="0.6"/>
<circle cx="231.50" cy="580.80" r="3.4" fill="rgb(200,55,240)" fill-opacity="0.6"/>
<circle cx="231.50" cy="589.20" r="3.4" fill="rgb(200,55,240)" fill-opacity="0.6"/>
<circle cx="231.50" cy="613.30" r="3.4" fill="rgb(200,55,240)" fill-opacity="0.6"/>
<circle cx="231.50" cy="613.30" r="3.4" fill="rgb(200,55,240)" fill-opacity="0.6"/>
<circle cx="258.00" cy="573.60" r="3.4" fill="rgb(105,72,155)" fill-opacity="0.6"/>
<circle cx="258.00" cy="596.60" r="3.4" fill="rgb(105,72,155)" fill-opacity="0.6"/>
<circle cx="258.00" cy="613.30" r="3.4" fill="rgb(105,72,155)" fill-opacity="0.6"/>
<circle cx="258.00" cy="613.30" r="3.4" fill="rgb(105,72,155)" fill-opacity="0.6"/>
<circle cx="284.50" cy="591.60" r="3.4" fill="rgb(147,97,180)" fill-opacity="0.6"/>
<circle cx="284.50" cy="613.30" r="3.4" fill="rgb(147,97,180)" fill-opacity="0.6"/>
<circle cx="284.50" cy="613.30" r="3.4" fill="rgb(147,97,180)" fill-opacity="0.6"/>
<circle cx="284.50" cy="613.30" r="3.4" fill="rgb(147,97,180)" fill-opacity="0.6"/>
<circle cx="311.00" cy="589.70" r="3.4" fill="rgb(230,163,205)" fill-opacity="0.6"/>
<circle cx="311.00" cy="596.00" r="3.4" fill="rgb(230,163,205)" fill-opacity="0.6"/>
<circle cx="311.00" cy="597.00" r="3.4" fill="rgb(230,163,205)" fill-opacity="0.6"/>
<circle cx="311.00" cy="613.30" r="3.4" fill="rgb(230,163,205)" fill-opacity="0.6"/>
<circle cx="337.50" cy="553.20" r="3.4" fill="rgb(105,147,63)" fill-opacity="0.6"/>
<circle cx="337.50" cy="558.70" r="3.4" fill="rgb(105,147,63)" fill-opacity="0.6"/>
<circle cx="337.50" cy="587.20" r="3.4" fill="rgb(105,147,63)" fill-opacity="0.6"/>
<circle cx="337.50" cy="573.70" r="3.4" fill="rgb(105,147,63)" fill-opacity="0.6"/>
<polyline points="72.50,501.10 99.00,525.70 125.50,525.10 152.00,542.70 178.50,579.00 205.00,581.70 231.50,580.80 258.00,573.60 284.50,591.60 311.00,589.70 337.50,553.20" fill="none" stroke="#d4d4d4" stroke-width="0.7"/>
<polyline points="72.50,509.00 99.00,537.40 125.50,529.70 152.00,519.50 178.50,565.00 205.00,590.40 231.50,589.20 258.00,596.60 284.50,613.30 311.00,596.00 337.50,558.70" fill="none" stroke="#d4d4d4" stroke-width="0.7"/>
<polyline points="72.50,523.90 99.00,548.40 125.50,549.70 152.00,551.90 178.50,572.90 205.00,594.00 231.50,613.30 258.00,613.30 284.50,613.30 311.00,597.00 337.50,587.20" fill="none" stroke="#d4d4d4" stroke-width="0.7"/>
<polyline points="72.50,543.20 99.00,551.00 125.50,565.40 152.00,577.30 178.50,600.00 205.00,613.30 231.50,613.30 258.00,613.30 284.50,613.30 311.00,613.30 337.50,573.70" fill="none" stroke="#d4d4d4" stroke-width="0.7"/>
<rect x="65.00" y="519.90" width="15" height="1.85" fill="#000"/>
<rect x="91.50" y="541.70" width="15" height="1.85" fill="#000"/>
<rect x="118.00" y="543.30" width="15" height="1.85" fill="#000"/>
<rect x="144.50" y="548.70" width="15" height="1.85" fill="#000"/>
<rect x="171.00" y="580.30" width="15" height="1.85" fill="#000"/>
<rect x="197.50" y="595.90" width="15" height="1.85" fill="#000"/>
<rect x="224.00" y="599.90" width="15" height="1.85" fill="#000"/>
<rect x="250.50" y="599.90" width="15" height="1.85" fill="#000"/>
<rect x="277.00" y="608.90" width="15" height="1.85" fill="#000"/>
<rect x="303.50" y="599.90" width="15" height="1.85" fill="#000"/>
<rect x="330.00" y="568.90" width="15" height="1.85" fill="#000"/>
<line x1="363.00" y1="602.60" x2="660.00" y2="602.60" stroke="#b0b0b0" stroke-width="1" stroke-dasharray="3.3,2.54"/>
<line x1="363.00" y1="623.20" x2="659.00" y2="623.20" stroke="#000" stroke-width="1.2" />
<line x1="378.70" y1="623.20" x2="378.70" y2="628.00" stroke="#000" stroke-width="1.2" />
<text transform="translate(384.20,638.10) rotate(-45)" font-size="10.1" text-anchor="end">WT</text>
<line x1="405.20" y1="623.20" x2="405.20" y2="628.00" stroke="#000" stroke-width="1.2" />
<text transform="translate(410.70,638.10) rotate(-45)" font-size="10.1" text-anchor="end">BA.5</text>
<line x1="431.70" y1="623.20" x2="431.70" y2="628.00" stroke="#000" stroke-width="1.2" />
<text transform="translate(437.20,638.10) rotate(-45)" font-size="10.1" text-anchor="end">BF.7</text>
<line x1="458.20" y1="623.20" x2="458.20" y2="628.00" stroke="#000" stroke-width="1.2" />
<text transform="translate(463.70,638.10) rotate(-45)" font-size="10.1" text-anchor="end">BQ.1.1</text>
<line x1="484.70" y1="623.20" x2="484.70" y2="628.00" stroke="#000" stroke-width="1.2" />
<text transform="translate(490.20,638.10) rotate(-45)" font-size="10.1" text-anchor="end">XBB.1.5</text>
<line x1="511.20" y1="623.20" x2="511.20" y2="628.00" stroke="#000" stroke-width="1.2" />
<text transform="translate(516.70,638.10) rotate(-45)" font-size="10.1" text-anchor="end">JN.1</text>
<line x1="537.70" y1="623.20" x2="537.70" y2="628.00" stroke="#000" stroke-width="1.2" />
<text transform="translate(543.20,638.10) rotate(-45)" font-size="10.1" text-anchor="end">XDV.1</text>
<line x1="564.20" y1="623.20" x2="564.20" y2="628.00" stroke="#000" stroke-width="1.2" />
<text transform="translate(569.70,638.10) rotate(-45)" font-size="10.1" text-anchor="end">KP.3</text>
<line x1="590.70" y1="623.20" x2="590.70" y2="628.00" stroke="#000" stroke-width="1.2" />
<text transform="translate(596.20,638.10) rotate(-45)" font-size="10.1" text-anchor="end">KP.3.1.1</text>
<line x1="617.20" y1="623.20" x2="617.20" y2="628.00" stroke="#000" stroke-width="1.2" />
<text transform="translate(622.70,638.10) rotate(-45)" font-size="10.1" text-anchor="end">XEC</text>
<line x1="643.70" y1="623.20" x2="643.70" y2="628.00" stroke="#000" stroke-width="1.2" />
<text transform="translate(649.20,638.10) rotate(-45)" font-size="10.1" text-anchor="end">SARS–CoV</text>
<text x="511.00" y="447.70" font-size="10.4" text-anchor="middle" font-weight="normal" fill="#000" >T4</text>
<text x="378.70" y="480.00" font-size="8.6" text-anchor="middle" font-weight="normal" fill="#000" >2802</text>
<text x="405.20" y="461.60" font-size="8.6" text-anchor="middle" font-weight="normal" fill="#000" >ns</text>
<text x="405.20" y="470.90" font-size="8.6" text-anchor="middle" font-weight="normal" fill="#000" >0.2x</text>
<text x="405.20" y="480.00" font-size="8.6" text-anchor="middle" font-weight="normal" fill="#000" >568</text>
<text x="431.70" y="461.60" font-size="8.6" text-anchor="middle" font-weight="normal" fill="#000" >ns</text>
<text x="431.70" y="470.90" font-size="8.6" text-anchor="middle" font-weight="normal" fill="#000" >0.24x</text>
<text x="431.70" y="480.00" font-size="8.6" text-anchor="middle" font-weight="normal" fill="#000" >661</text>
<text x="458.20" y="461.90" font-size="8.6" text-anchor="middle" font-weight="normal" fill="#000" >*</text>
<text x="458.20" y="470.90" font-size="8.6" text-anchor="middle" font-weight="normal" fill="#000" >0.09x</text>
<text x="458.20" y="480.00" font-size="8.6" text-anchor="middle" font-weight="normal" fill="#000" >249</text>
<text x="484.70" y="461.60" font-size="8.6" text-anchor="middle" font-weight="normal" fill="#000" >ns</text>
<text x="484.70" y="470.90" font-size="8.6" text-anchor="middle" font-weight="normal" fill="#000" >0.07x</text>
<text x="484.70" y="480.00" font-size="8.6" text-anchor="middle" font-weight="normal" fill="#000" >201</text>
<text x="511.20" y="461.60" font-size="8.6" text-anchor="middle" font-weight="normal" fill="#000" >ns</text>
<text x="511.20" y="470.90" font-size="8.6" text-anchor="middle" font-weight="normal" fill="#000" >0.03x</text>
<text x="511.20" y="480.00" font-size="8.6" text-anchor="middle" font-weight="normal" fill="#000" >75</text>
<text x="537.70" y="461.60" font-size="8.6" text-anchor="middle" font-weight="normal" fill="#000" >ns</text>
<text x="537.70" y="470.90" font-size="8.6" text-anchor="middle" font-weight="normal" fill="#000" >0.02x</text>
<text x="537.70" y="480.00" font-size="8.6" text-anchor="middle" font-weight="normal" fill="#000" >64</text>
<text x="564.20" y="461.60" font-size="8.6" text-anchor="middle" font-weight="normal" fill="#000" >ns</text>
<text x="564.20" y="470.90" font-size="8.6" text-anchor="middle" font-weight="normal" fill="#000" >0.03x</text>
<text x="564.20" y="480.00" font-size="8.6" text-anchor="middle" font-weight="normal" fill="#000" >72</text>
<text x="590.70" y="461.60" font-size="8.6" text-anchor="middle" font-weight="normal" fill="#000" >ns</text>
<text x="590.70" y="470.90" font-size="8.6" text-anchor="middle" font-weight="normal" fill="#000" >0.02x</text>
<text x="590.70" y="480.00" font-size="8.6" text-anchor="middle" font-weight="normal" fill="#000" >49</text>
<text x="617.20" y="461.60" font-size="8.6" text-anchor="middle" font-weight="normal" fill="#000" >ns</text>
<text x="617.20" y="470.90" font-size="8.6" text-anchor="middle" font-weight="normal" fill="#000" >0.02x</text>
<text x="617.20" y="480.00" font-size="8.6" text-anchor="middle" font-weight="normal" fill="#000" >56</text>
<text x="643.70" y="461.60" font-size="8.6" text-anchor="middle" font-weight="normal" fill="#000" >ns</text>
<text x="643.70" y="470.90" font-size="8.6" text-anchor="middle" font-weight="normal" fill="#000" >0.03x</text>
<text x="643.70" y="480.00" font-size="8.6" text-anchor="middle" font-weight="normal" fill="#000" >88</text>
<circle cx="378.70" cy="527.00" r="3.4" fill="rgb(210,102,88)" fill-opacity="0.6"/>
<circle cx="378.70" cy="527.00" r="3.4" fill="rgb(210,102,88)" fill-opacity="0.6"/>
<circle cx="378.70" cy="541.00" r="3.4" fill="rgb(210,102,88)" fill-opacity="0.6"/>
<circle cx="378.70" cy="552.90" r="3.4" fill="rgb(210,102,88)" fill-opacity="0.6"/>
<circle cx="405.20" cy="551.20" r="3.4" fill="rgb(50,105,160)" fill-opacity="0.6"/>
<circle cx="405.20" cy="553.30" r="3.4" fill="rgb(50,105,160)" fill-opacity="0.6"/>
<circle cx="405.20" cy="557.10" r="3.4" fill="rgb(50,105,160)" fill-opacity="0.6"/>
<circle cx="405.20" cy="587.10" r="3.4" fill="rgb(50,105,160)" fill-opacity="0.6"/>
<circle cx="431.70" cy="547.20" r="3.4" fill="rgb(63,155,238)" fill-opacity="0.6"/>
<circle cx="431.70" cy="557.70" r="3.4" fill="rgb(63,155,238)" fill-opacity="0.6"/>
<circle cx="431.70" cy="555.00" r="3.4" fill="rgb(63,155,238)" fill-opacity="0.6"/>
<circle cx="431.70" cy="579.60" r="3.4" fill="rgb(63,155,238)" fill-opacity="0.6"/>
<circle cx="458.20" cy="545.90" r="3.4" fill="rgb(130,200,243)" fill-opacity="0.6"/>
<circle cx="458.20" cy="571.20" r="3.4" fill="rgb(130,200,243)" fill-opacity="0.6"/>
<circle cx="458.20" cy="571.20" r="3.4" fill="rgb(130,200,243)" fill-opacity="0.6"/>
<circle cx="458.20" cy="613.30" r="3.4" fill="rgb(130,200,243)" fill-opacity="0.6"/>
<circle cx="484.70" cy="551.00" r="3.4" fill="rgb(205,163,55)" fill-opacity="0.6"/>
<circle cx="484.70" cy="586.40" r="3.4" fill="rgb(205,163,55)" fill-opacity="0.6"/>
<circle cx="484.70" cy="569.80" r="3.4" fill="rgb(205,163,55)" fill-opacity="0.6"/>
<circle cx="484.70" cy="608.00" r="3.4" fill="rgb(205,163,55)" fill-opacity="0.6"/>
<circle cx="511.20" cy="577.70" r="3.4" fill="rgb(172,80,230)" fill-opacity="0.6"/>
<circle cx="511.20" cy="600.40" r="3.4" fill="rgb(172,80,230)" fill-opacity="0.6"/>
<circle cx="511.20" cy="585.90" r="3.4" fill="rgb(172,80,230)" fill-opacity="0.6"/>
<circle cx="511.20" cy="613.30" r="3.4" fill="rgb(172,80,230)" fill-opacity="0.6"/>
<circle cx="537.70" cy="589.40" r="3.4" fill="rgb(200,55,240)" fill-opacity="0.6"/>
<circle cx="537.70" cy="585.20" r="3.4" fill="rgb(200,55,240)" fill-opacity="0.6"/>
<circle cx="537.70" cy="599.20" r="3.4" fill="rgb(200,55,240)" fill-opacity="0.6"/>
<circle cx="537.70" cy="613.30" r="3.4" fill="rgb(200,55,240)" fill-opacity="0.6"/>
<circle cx="564.20" cy="587.30" r="3.4" fill="rgb(105,72,155)" fill-opacity="0.6"/>
<circle cx="564.20" cy="581.50" r="3.4" fill="rgb(105,72,155)" fill-opacity="0.6"/>
<circle cx="564.20" cy="597.80" r="3.4" fill="rgb(105,72,155)" fill-opacity="0.6"/>
<circle cx="564.20" cy="613.30" r="3.4" fill="rgb(105,72,155)" fill-opacity="0.6"/>
<circle cx="590.70" cy="593.30" r="3.4" fill="rgb(147,97,180)" fill-opacity="0.6"/>
<circle cx="590.70" cy="599.40" r="3.4" fill="rgb(147,97,180)" fill-opacity="0.6"/>
<circle cx="590.70" cy="596.50" r="3.4" fill="rgb(147,97,180)" fill-opacity="0.6"/>
<circle cx="590.70" cy="613.30" r="3.4" fill="rgb(147,97,180)" fill-opacity="0.6"/>
<circle cx="617.20" cy="590.40" r="3.4" fill="rgb(230,163,205)" fill-opacity="0.6"/>
<circle cx="617.20" cy="595.00" r="3.4" fill="rgb(230,163,205)" fill-opacity="0.6"/>
<circle cx="617.20" cy="597.20" r="3.4" fill="rgb(230,163,205)" fill-opacity="0.6"/>
<circle cx="617.20" cy="613.30" r="3.4" fill="rgb(230,163,205)" fill-opacity="0.6"/>
<circle cx="643.70" cy="581.20" r="3.4" fill="rgb(105,147,63)" fill-opacity="0.6"/>
<circle cx="643.70" cy="586.00" r="3.4" fill="rgb(105,147,63)" fill-opacity="0.6"/>
<circle cx="643.70" cy="587.00" r="3.4" fill="rgb(105,147,63)" fill-opacity="0.6"/>
<circle cx="643.70" cy="613.30" r="3.4" fill="rgb(105,147,63)" fill-opacity="0.6"/>
<polyline points="378.70,527.00 405.20,551.20 431.70,547.20 458.20,545.90 484.70,551.00 511.20,577.70 537.70,589.40 564.20,587.30 590.70,593.30 617.20,590.40 643.70,581.20" fill="none" stroke="#d4d4d4" stroke-width="0.7"/>
<polyline points="378.70,527.00 405.20,553.30 431.70,557.70 458.20,571.20 484.70,586.40 511.20,600.40 537.70,585.20 564.20,581.50 590.70,599.40 617.20,595.00 643.70,586.00" fill="none" stroke="#d4d4d4" stroke-width="0.7"/>
<polyline points="378.70,541.00 405.20,557.10 431.70,555.00 458.20,571.20 484.70,569.80 511.20,585.90 537.70,599.20 564.20,597.80 590.70,596.50 617.20,597.20 643.70,587.00" fill="none" stroke="#d4d4d4" stroke-width="0.7"/>
<polyline points="378.70,552.90 405.20,587.10 431.70,579.60 458.20,613.30 484.70,608.00 511.20,613.30 537.70,613.30 564.20,613.30 590.70,613.30 617.20,613.30 643.70,613.30" fill="none" stroke="#d4d4d4" stroke-width="0.7"/>
<rect x="371.20" y="537.90" width="15" height="1.85" fill="#000"/>
<rect x="397.70" y="563.30" width="15" height="1.85" fill="#000"/>
<rect x="424.20" y="560.70" width="15" height="1.85" fill="#000"/>
<rect x="450.70" y="576.30" width="15" height="1.85" fill="#000"/>
<rect x="477.20" y="579.70" width="15" height="1.85" fill="#000"/>
<rect x="503.70" y="595.30" width="15" height="1.85" fill="#000"/>
<rect x="530.20" y="597.70" width="15" height="1.85" fill="#000"/>
<rect x="556.70" y="595.90" width="15" height="1.85" fill="#000"/>
<rect x="583.20" y="601.90" width="15" height="1.85" fill="#000"/>
<rect x="609.70" y="599.90" width="15" height="1.85" fill="#000"/>
<rect x="636.20" y="592.90" width="15" height="1.85" fill="#000"/>
<text x="2.20" y="701.00" font-size="14" text-anchor="start" font-weight="bold" fill="#000" >e</text>
<text x="361.80" y="700.80" font-size="10.45" text-anchor="middle" font-weight="bold" fill="#72b84c" >BA.5/BF.7 + XBB.1.5 infection (n = 7)</text>
<line x1="56.30" y1="876.40" x2="354.00" y2="876.40" stroke="#b0b0b0" stroke-width="1" stroke-dasharray="3.3,2.54"/>
<path d="M56.8,724.80 V897.00 H353.00" fill="none" stroke="#000" stroke-width="1.2" stroke-linejoin="round"/>
<line x1="52.30" y1="754.40" x2="57.00" y2="754.40" stroke="#000" stroke-width="1.1" />
<text x="44.2" y="759.50" font-size="10" text-anchor="end">10</text>
<text x="44.4" y="754.60" font-size="7">5</text>
<line x1="52.30" y1="790.90" x2="57.00" y2="790.90" stroke="#000" stroke-width="1.1" />
<text x="44.2" y="796.00" font-size="10" text-anchor="end">10</text>
<text x="44.4" y="791.10" font-size="7">4</text>
<line x1="52.30" y1="827.30" x2="57.00" y2="827.30" stroke="#000" stroke-width="1.1" />
<text x="44.2" y="832.40" font-size="10" text-anchor="end">10</text>
<text x="44.4" y="827.50" font-size="7">3</text>
<line x1="52.30" y1="863.80" x2="57.00" y2="863.80" stroke="#000" stroke-width="1.1" />
<text x="44.2" y="868.90" font-size="10" text-anchor="end">10</text>
<text x="44.4" y="864.00" font-size="7">2</text>
<line x1="72.50" y1="897.00" x2="72.50" y2="901.80" stroke="#000" stroke-width="1.2" />
<text transform="translate(78.00,911.90) rotate(-45)" font-size="10.1" text-anchor="end">WT</text>
<line x1="99.00" y1="897.00" x2="99.00" y2="901.80" stroke="#000" stroke-width="1.2" />
<text transform="translate(104.50,911.90) rotate(-45)" font-size="10.1" text-anchor="end">BA.5</text>
<line x1="125.50" y1="897.00" x2="125.50" y2="901.80" stroke="#000" stroke-width="1.2" />
<text transform="translate(131.00,911.90) rotate(-45)" font-size="10.1" text-anchor="end">BF.7</text>
<line x1="152.00" y1="897.00" x2="152.00" y2="901.80" stroke="#000" stroke-width="1.2" />
<text transform="translate(157.50,911.90) rotate(-45)" font-size="10.1" text-anchor="end">BQ.1.1</text>
<line x1="178.50" y1="897.00" x2="178.50" y2="901.80" stroke="#000" stroke-width="1.2" />
<text transform="translate(184.00,911.90) rotate(-45)" font-size="10.1" text-anchor="end">XBB.1.5</text>
<line x1="205.00" y1="897.00" x2="205.00" y2="901.80" stroke="#000" stroke-width="1.2" />
<text transform="translate(210.50,911.90) rotate(-45)" font-size="10.1" text-anchor="end">JN.1</text>
<line x1="231.50" y1="897.00" x2="231.50" y2="901.80" stroke="#000" stroke-width="1.2" />
<text transform="translate(237.00,911.90) rotate(-45)" font-size="10.1" text-anchor="end">XDV.1</text>
<line x1="258.00" y1="897.00" x2="258.00" y2="901.80" stroke="#000" stroke-width="1.2" />
<text transform="translate(263.50,911.90) rotate(-45)" font-size="10.1" text-anchor="end">KP.3</text>
<line x1="284.50" y1="897.00" x2="284.50" y2="901.80" stroke="#000" stroke-width="1.2" />
<text transform="translate(290.00,911.90) rotate(-45)" font-size="10.1" text-anchor="end">KP.3.1.1</text>
<line x1="311.00" y1="897.00" x2="311.00" y2="901.80" stroke="#000" stroke-width="1.2" />
<text transform="translate(316.50,911.90) rotate(-45)" font-size="10.1" text-anchor="end">XEC</text>
<line x1="337.50" y1="897.00" x2="337.50" y2="901.80" stroke="#000" stroke-width="1.2" />
<text transform="translate(343.00,911.90) rotate(-45)" font-size="10.1" text-anchor="end">SARS–CoV</text>
<text x="205.00" y="719.60" font-size="10.4" text-anchor="middle" font-weight="normal" fill="#000" >T3</text>
<text x="72.50" y="735.70" font-size="8.6" text-anchor="middle" font-weight="normal" fill="#000" >*</text>
<text x="72.50" y="744.70" font-size="8.6" text-anchor="middle" font-weight="normal" fill="#000" >0.54x</text>
<text x="72.50" y="753.80" font-size="8.6" text-anchor="middle" font-weight="normal" fill="#000" >5485</text>
<text x="99.00" y="753.80" font-size="8.6" text-anchor="middle" font-weight="normal" fill="#000" >10251</text>
<text x="125.50" y="735.40" font-size="8.6" text-anchor="middle" font-weight="normal" fill="#000" >ns</text>
<text x="125.50" y="744.70" font-size="8.6" text-anchor="middle" font-weight="normal" fill="#000" >0.92x</text>
<text x="125.50" y="753.80" font-size="8.6" text-anchor="middle" font-weight="normal" fill="#000" >9408</text>
<text x="152.00" y="735.40" font-size="8.6" text-anchor="middle" font-weight="normal" fill="#000" >ns</text>
<text x="152.00" y="744.70" font-size="8.6" text-anchor="middle" font-weight="normal" fill="#000" >0.45x</text>
<text x="152.00" y="753.80" font-size="8.6" text-anchor="middle" font-weight="normal" fill="#000" >4609</text>
<text x="178.50" y="735.40" font-size="8.6" text-anchor="middle" font-weight="normal" fill="#000" >ns</text>
<text x="178.50" y="744.70" font-size="8.6" text-anchor="middle" font-weight="normal" fill="#000" >0.2x</text>
<text x="178.50" y="753.80" font-size="8.6" text-anchor="middle" font-weight="normal" fill="#000" >2096</text>
<text x="205.00" y="735.70" font-size="8.6" text-anchor="middle" font-weight="normal" fill="#000" >*</text>
<text x="205.00" y="744.70" font-size="8.6" text-anchor="middle" font-weight="normal" fill="#000" >0.09x</text>
<text x="205.00" y="753.80" font-size="8.6" text-anchor="middle" font-weight="normal" fill="#000" >933</text>
<text x="231.50" y="735.70" font-size="8.6" text-anchor="middle" font-weight="normal" fill="#000" >*</text>
<text x="231.50" y="744.70" font-size="8.6" text-anchor="middle" font-weight="normal" fill="#000" >0.08x</text>
<text x="231.50" y="753.80" font-size="8.6" text-anchor="middle" font-weight="normal" fill="#000" >847</text>
<text x="258.00" y="735.70" font-size="8.6" text-anchor="middle" font-weight="normal" fill="#000" >*</text>
<text x="258.00" y="744.70" font-size="8.6" text-anchor="middle" font-weight="normal" fill="#000" >0.04x</text>
<text x="258.00" y="753.80" font-size="8.6" text-anchor="middle" font-weight="normal" fill="#000" >444</text>
<text x="284.50" y="735.70" font-size="8.6" text-anchor="middle" font-weight="normal" fill="#000" >*</text>
<text x="284.50" y="744.70" font-size="8.6" text-anchor="middle" font-weight="normal" fill="#000" >0.03x</text>
<text x="284.50" y="753.80" font-size="8.6" text-anchor="middle" font-weight="normal" fill="#000" >356</text>
<text x="311.00" y="735.70" font-size="8.6" text-anchor="middle" font-weight="normal" fill="#000" >*</text>
<text x="311.00" y="744.70" font-size="8.6" text-anchor="middle" font-weight="normal" fill="#000" >0.02x</text>
<text x="311.00" y="753.80" font-size="8.6" text-anchor="middle" font-weight="normal" fill="#000" >220</text>
<text x="337.50" y="735.70" font-size="8.6" text-anchor="middle" font-weight="normal" fill="#000" >*</text>
<text x="337.50" y="744.70" font-size="8.6" text-anchor="middle" font-weight="normal" fill="#000" >0.02x</text>
<text x="337.50" y="753.80" font-size="8.6" text-anchor="middle" font-weight="normal" fill="#000" >176</text>
<circle cx="72.50" cy="782.10" r="3.4" fill="rgb(210,102,88)" fill-opacity="0.6"/>
<circle cx="72.50" cy="794.50" r="3.4" fill="rgb(210,102,88)" fill-opacity="0.6"/>
<circle cx="72.50" cy="796.50" r="3.4" fill="rgb(210,102,88)" fill-opacity="0.6"/>
<circle cx="72.50" cy="799.50" r="3.4" fill="rgb(210,102,88)" fill-opacity="0.6"/>
<circle cx="72.50" cy="802.00" r="3.4" fill="rgb(210,102,88)" fill-opacity="0.6"/>
<circle cx="72.50" cy="812.20" r="3.4" fill="rgb(210,102,88)" fill-opacity="0.6"/>
<circle cx="72.50" cy="815.30" r="3.4" fill="rgb(210,102,88)" fill-opacity="0.6"/>
<circle cx="99.00" cy="771.40" r="3.4" fill="rgb(50,105,160)" fill-opacity="0.6"/>
<circle cx="99.00" cy="781.80" r="3.4" fill="rgb(50,105,160)" fill-opacity="0.6"/>
<circle cx="99.00" cy="791.30" r="3.4" fill="rgb(50,105,160)" fill-opacity="0.6"/>
<circle cx="99.00" cy="794.30" r="3.4" fill="rgb(50,105,160)" fill-opacity="0.6"/>
<circle cx="99.00" cy="796.00" r="3.4" fill="rgb(50,105,160)" fill-opacity="0.6"/>
<circle cx="99.00" cy="798.00" r="3.4" fill="rgb(50,105,160)" fill-opacity="0.6"/>
<circle cx="99.00" cy="800.00" r="3.4" fill="rgb(50,105,160)" fill-opacity="0.6"/>
<circle cx="125.50" cy="791.00" r="3.4" fill="rgb(63,155,238)" fill-opacity="0.6"/>
<circle cx="125.50" cy="792.50" r="3.4" fill="rgb(63,155,238)" fill-opacity="0.6"/>
<circle cx="125.50" cy="761.60" r="3.4" fill="rgb(63,155,238)" fill-opacity="0.6"/>
<circle cx="125.50" cy="777.00" r="3.4" fill="rgb(63,155,238)" fill-opacity="0.6"/>
<circle cx="125.50" cy="789.50" r="3.4" fill="rgb(63,155,238)" fill-opacity="0.6"/>
<circle cx="125.50" cy="805.60" r="3.4" fill="rgb(63,155,238)" fill-opacity="0.6"/>
<circle cx="125.50" cy="824.50" r="3.4" fill="rgb(63,155,238)" fill-opacity="0.6"/>
<circle cx="152.00" cy="788.00" r="3.4" fill="rgb(130,200,243)" fill-opacity="0.6"/>
<circle cx="152.00" cy="813.20" r="3.4" fill="rgb(130,200,243)" fill-opacity="0.6"/>
<circle cx="152.00" cy="779.50" r="3.4" fill="rgb(130,200,243)" fill-opacity="0.6"/>
<circle cx="152.00" cy="795.10" r="3.4" fill="rgb(130,200,243)" fill-opacity="0.6"/>
<circle cx="152.00" cy="787.00" r="3.4" fill="rgb(130,200,243)" fill-opacity="0.6"/>
<circle cx="152.00" cy="825.00" r="3.4" fill="rgb(130,200,243)" fill-opacity="0.6"/>
<circle cx="152.00" cy="834.20" r="3.4" fill="rgb(130,200,243)" fill-opacity="0.6"/>
<circle cx="178.50" cy="817.00" r="3.4" fill="rgb(205,163,55)" fill-opacity="0.6"/>
<circle cx="178.50" cy="811.50" r="3.4" fill="rgb(205,163,55)" fill-opacity="0.6"/>
<circle cx="178.50" cy="813.00" r="3.4" fill="rgb(205,163,55)" fill-opacity="0.6"/>
<circle cx="178.50" cy="801.60" r="3.4" fill="rgb(205,163,55)" fill-opacity="0.6"/>
<circle cx="178.50" cy="815.00" r="3.4" fill="rgb(205,163,55)" fill-opacity="0.6"/>
<circle cx="178.50" cy="819.00" r="3.4" fill="rgb(205,163,55)" fill-opacity="0.6"/>
<circle cx="178.50" cy="833.30" r="3.4" fill="rgb(205,163,55)" fill-opacity="0.6"/>
<circle cx="205.00" cy="832.30" r="3.4" fill="rgb(172,80,230)" fill-opacity="0.6"/>
<circle cx="205.00" cy="811.90" r="3.4" fill="rgb(172,80,230)" fill-opacity="0.6"/>
<circle cx="205.00" cy="813.90" r="3.4" fill="rgb(172,80,230)" fill-opacity="0.6"/>
<circle cx="205.00" cy="830.30" r="3.4" fill="rgb(172,80,230)" fill-opacity="0.6"/>
<circle cx="205.00" cy="818.50" r="3.4" fill="rgb(172,80,230)" fill-opacity="0.6"/>
<circle cx="205.00" cy="834.90" r="3.4" fill="rgb(172,80,230)" fill-opacity="0.6"/>
<circle cx="205.00" cy="856.30" r="3.4" fill="rgb(172,80,230)" fill-opacity="0.6"/>
<circle cx="231.50" cy="843.30" r="3.4" fill="rgb(200,55,240)" fill-opacity="0.6"/>
<circle cx="231.50" cy="813.20" r="3.4" fill="rgb(200,55,240)" fill-opacity="0.6"/>
<circle cx="231.50" cy="823.00" r="3.4" fill="rgb(200,55,240)" fill-opacity="0.6"/>
<circle cx="231.50" cy="820.30" r="3.4" fill="rgb(200,55,240)" fill-opacity="0.6"/>
<circle cx="231.50" cy="826.50" r="3.4" fill="rgb(200,55,240)" fill-opacity="0.6"/>
<circle cx="231.50" cy="829.50" r="3.4" fill="rgb(200,55,240)" fill-opacity="0.6"/>
<circle cx="231.50" cy="853.00" r="3.4" fill="rgb(200,55,240)" fill-opacity="0.6"/>
<circle cx="258.00" cy="854.00" r="3.4" fill="rgb(105,72,155)" fill-opacity="0.6"/>
<circle cx="258.00" cy="830.00" r="3.4" fill="rgb(105,72,155)" fill-opacity="0.6"/>
<circle cx="258.00" cy="835.70" r="3.4" fill="rgb(105,72,155)" fill-opacity="0.6"/>
<circle cx="258.00" cy="821.40" r="3.4" fill="rgb(105,72,155)" fill-opacity="0.6"/>
<circle cx="258.00" cy="828.00" r="3.4" fill="rgb(105,72,155)" fill-opacity="0.6"/>
<circle cx="258.00" cy="847.90" r="3.4" fill="rgb(105,72,155)" fill-opacity="0.6"/>
<circle cx="258.00" cy="863.20" r="3.4" fill="rgb(105,72,155)" fill-opacity="0.6"/>
<circle cx="284.50" cy="860.00" r="3.4" fill="rgb(147,97,180)" fill-opacity="0.6"/>
<circle cx="284.50" cy="828.80" r="3.4" fill="rgb(147,97,180)" fill-opacity="0.6"/>
<circle cx="284.50" cy="837.50" r="3.4" fill="rgb(147,97,180)" fill-opacity="0.6"/>
<circle cx="284.50" cy="835.40" r="3.4" fill="rgb(147,97,180)" fill-opacity="0.6"/>
<circle cx="284.50" cy="822.20" r="3.4" fill="rgb(147,97,180)" fill-opacity="0.6"/>
<circle cx="284.50" cy="853.30" r="3.4" fill="rgb(147,97,180)" fill-opacity="0.6"/>
<circle cx="284.50" cy="867.60" r="3.4" fill="rgb(147,97,180)" fill-opacity="0.6"/>
<circle cx="311.00" cy="870.70" r="3.4" fill="rgb(230,163,205)" fill-opacity="0.6"/>
<circle cx="311.00" cy="827.80" r="3.4" fill="rgb(230,163,205)" fill-opacity="0.6"/>
<circle cx="311.00" cy="843.80" r="3.4" fill="rgb(230,163,205)" fill-opacity="0.6"/>
<circle cx="311.00" cy="831.30" r="3.4" fill="rgb(230,163,205)" fill-opacity="0.6"/>
<circle cx="311.00" cy="833.40" r="3.4" fill="rgb(230,163,205)" fill-opacity="0.6"/>
<circle cx="311.00" cy="864.00" r="3.4" fill="rgb(230,163,205)" fill-opacity="0.6"/>
<circle cx="311.00" cy="887.30" r="3.4" fill="rgb(230,163,205)" fill-opacity="0.6"/>
<circle cx="337.50" cy="860.00" r="3.4" fill="rgb(105,147,63)" fill-opacity="0.6"/>
<circle cx="337.50" cy="848.20" r="3.4" fill="rgb(105,147,63)" fill-opacity="0.6"/>
<circle cx="337.50" cy="856.00" r="3.4" fill="rgb(105,147,63)" fill-opacity="0.6"/>
<circle cx="337.50" cy="833.40" r="3.4" fill="rgb(105,147,63)" fill-opacity="0.6"/>
<circle cx="337.50" cy="852.80" r="3.4" fill="rgb(105,147,63)" fill-opacity="0.6"/>
<circle cx="337.50" cy="865.60" r="3.4" fill="rgb(105,147,63)" fill-opacity="0.6"/>
<circle cx="337.50" cy="868.10" r="3.4" fill="rgb(105,147,63)" fill-opacity="0.6"/>
<polyline points="72.50,782.10 99.00,771.40 125.50,791.00 152.00,788.00 178.50,817.00 205.00,832.30 231.50,843.30 258.00,854.00 284.50,860.00 311.00,870.70 337.50,860.00" fill="none" stroke="#d4d4d4" stroke-width="0.7"/>
<polyline points="72.50,794.50 99.00,781.80 125.50,792.50 152.00,813.20 178.50,811.50 205.00,811.90 231.50,813.20 258.00,830.00 284.50,828.80 311.00,827.80 337.50,848.20" fill="none" stroke="#d4d4d4" stroke-width="0.7"/>
<polyline points="72.50,796.50 99.00,791.30 125.50,761.60 152.00,779.50 178.50,813.00 205.00,813.90 231.50,823.00 258.00,835.70 284.50,837.50 311.00,843.80 337.50,856.00" fill="none" stroke="#d4d4d4" stroke-width="0.7"/>
<polyline points="72.50,799.50 99.00,794.30 125.50,777.00 152.00,795.10 178.50,801.60 205.00,830.30 231.50,820.30 258.00,821.40 284.50,835.40 311.00,831.30 337.50,833.40" fill="none" stroke="#d4d4d4" stroke-width="0.7"/>
<polyline points="72.50,802.00 99.00,796.00 125.50,789.50 152.00,787.00 178.50,815.00 205.00,818.50 231.50,826.50 258.00,828.00 284.50,822.20 311.00,833.40 337.50,852.80" fill="none" stroke="#d4d4d4" stroke-width="0.7"/>
<polyline points="72.50,812.20 99.00,798.00 125.50,805.60 152.00,825.00 178.50,819.00 205.00,834.90 231.50,829.50 258.00,847.90 284.50,853.30 311.00,864.00 337.50,865.60" fill="none" stroke="#d4d4d4" stroke-width="0.7"/>
<polyline points="72.50,815.30 99.00,800.00 125.50,824.50 152.00,834.20 178.50,833.30 205.00,856.30 231.50,853.00 258.00,863.20 284.50,867.60 311.00,887.30 337.50,868.10" fill="none" stroke="#d4d4d4" stroke-width="0.7"/>
<rect x="65.00" y="801.30" width="15" height="1.85" fill="#000"/>
<rect x="91.50" y="791.30" width="15" height="1.85" fill="#000"/>
<rect x="118.00" y="792.70" width="15" height="1.85" fill="#000"/>
<rect x="144.50" y="803.90" width="15" height="1.85" fill="#000"/>
<rect x="171.00" y="816.30" width="15" height="1.85" fill="#000"/>
<rect x="197.50" y="829.30" width="15" height="1.85" fill="#000"/>
<rect x="224.00" y="830.70" width="15" height="1.85" fill="#000"/>
<rect x="250.50" y="840.90" width="15" height="1.85" fill="#000"/>
<rect x="277.00" y="844.30" width="15" height="1.85" fill="#000"/>
<rect x="303.50" y="851.90" width="15" height="1.85" fill="#000"/>
<rect x="330.00" y="855.70" width="15" height="1.85" fill="#000"/>
<line x1="363.00" y1="876.40" x2="660.00" y2="876.40" stroke="#b0b0b0" stroke-width="1" stroke-dasharray="3.3,2.54"/>
<line x1="363.00" y1="897.00" x2="659.00" y2="897.00" stroke="#000" stroke-width="1.2" />
<line x1="378.70" y1="897.00" x2="378.70" y2="901.80" stroke="#000" stroke-width="1.2" />
<text transform="translate(384.20,911.90) rotate(-45)" font-size="10.1" text-anchor="end">WT</text>
<line x1="405.20" y1="897.00" x2="405.20" y2="901.80" stroke="#000" stroke-width="1.2" />
<text transform="translate(410.70,911.90) rotate(-45)" font-size="10.1" text-anchor="end">BA.5</text>
<line x1="431.70" y1="897.00" x2="431.70" y2="901.80" stroke="#000" stroke-width="1.2" />
<text transform="translate(437.20,911.90) rotate(-45)" font-size="10.1" text-anchor="end">BF.7</text>
<line x1="458.20" y1="897.00" x2="458.20" y2="901.80" stroke="#000" stroke-width="1.2" />
<text transform="translate(463.70,911.90) rotate(-45)" font-size="10.1" text-anchor="end">BQ.1.1</text>
<line x1="484.70" y1="897.00" x2="484.70" y2="901.80" stroke="#000" stroke-width="1.2" />
<text transform="translate(490.20,911.90) rotate(-45)" font-size="10.1" text-anchor="end">XBB.1.5</text>
<line x1="511.20" y1="897.00" x2="511.20" y2="901.80" stroke="#000" stroke-width="1.2" />
<text transform="translate(516.70,911.90) rotate(-45)" font-size="10.1" text-anchor="end">JN.1</text>
<line x1="537.70" y1="897.00" x2="537.70" y2="901.80" stroke="#000" stroke-width="1.2" />
<text transform="translate(543.20,911.90) rotate(-45)" font-size="10.1" text-anchor="end">XDV.1</text>
<line x1="564.20" y1="897.00" x2="564.20" y2="901.80" stroke="#000" stroke-width="1.2" />
<text transform="translate(569.70,911.90) rotate(-45)" font-size="10.1" text-anchor="end">KP.3</text>
<line x1="590.70" y1="897.00" x2="590.70" y2="901.80" stroke="#000" stroke-width="1.2" />
<text transform="translate(596.20,911.90) rotate(-45)" font-size="10.1" text-anchor="end">KP.3.1.1</text>
<line x1="617.20" y1="897.00" x2="617.20" y2="901.80" stroke="#000" stroke-width="1.2" />
<text transform="translate(622.70,911.90) rotate(-45)" font-size="10.1" text-anchor="end">XEC</text>
<line x1="643.70" y1="897.00" x2="643.70" y2="901.80" stroke="#000" stroke-width="1.2" />
<text transform="translate(649.20,911.90) rotate(-45)" font-size="10.1" text-anchor="end">SARS–CoV</text>
<text x="511.00" y="719.60" font-size="10.4" text-anchor="middle" font-weight="normal" fill="#000" >T4</text>
<text x="378.70" y="735.40" font-size="8.6" text-anchor="middle" font-weight="normal" fill="#000" >ns</text>
<text x="378.70" y="744.70" font-size="8.6" text-anchor="middle" font-weight="normal" fill="#000" >1.11x</text>
<text x="378.70" y="753.80" font-size="8.6" text-anchor="middle" font-weight="normal" fill="#000" >1831</text>
<text x="405.20" y="753.80" font-size="8.6" text-anchor="middle" font-weight="normal" fill="#000" >1651</text>
<text x="431.70" y="735.40" font-size="8.6" text-anchor="middle" font-weight="normal" fill="#000" >ns</text>
<text x="431.70" y="744.70" font-size="8.6" text-anchor="middle" font-weight="normal" fill="#000" >0.62x</text>
<text x="431.70" y="753.80" font-size="8.6" text-anchor="middle" font-weight="normal" fill="#000" >1019</text>
<text x="458.20" y="735.70" font-size="8.6" text-anchor="middle" font-weight="normal" fill="#000" >*</text>
<text x="458.20" y="744.70" font-size="8.6" text-anchor="middle" font-weight="normal" fill="#000" >0.44x</text>
<text x="458.20" y="753.80" font-size="8.6" text-anchor="middle" font-weight="normal" fill="#000" >720</text>
<text x="484.70" y="735.70" font-size="8.6" text-anchor="middle" font-weight="normal" fill="#000" >*</text>
<text x="484.70" y="744.70" font-size="8.6" text-anchor="middle" font-weight="normal" fill="#000" >0.39x</text>
<text x="484.70" y="753.80" font-size="8.6" text-anchor="middle" font-weight="normal" fill="#000" >640</text>
<text x="511.20" y="735.70" font-size="8.6" text-anchor="middle" font-weight="normal" fill="#000" >*</text>
<text x="511.20" y="744.70" font-size="8.6" text-anchor="middle" font-weight="normal" fill="#000" >0.17x</text>
<text x="511.20" y="753.80" font-size="8.6" text-anchor="middle" font-weight="normal" fill="#000" >288</text>
<text x="537.70" y="735.70" font-size="8.6" text-anchor="middle" font-weight="normal" fill="#000" >*</text>
<text x="537.70" y="744.70" font-size="8.6" text-anchor="middle" font-weight="normal" fill="#000" >0.17x</text>
<text x="537.70" y="753.80" font-size="8.6" text-anchor="middle" font-weight="normal" fill="#000" >280</text>
<text x="564.20" y="735.70" font-size="8.6" text-anchor="middle" font-weight="normal" fill="#000" >*</text>
<text x="564.20" y="744.70" font-size="8.6" text-anchor="middle" font-weight="normal" fill="#000" >0.1x</text>
<text x="564.20" y="753.80" font-size="8.6" text-anchor="middle" font-weight="normal" fill="#000" >164</text>
<text x="590.70" y="735.70" font-size="8.6" text-anchor="middle" font-weight="normal" fill="#000" >*</text>
<text x="590.70" y="744.70" font-size="8.6" text-anchor="middle" font-weight="normal" fill="#000" >0.06x</text>
<text x="590.70" y="753.80" font-size="8.6" text-anchor="middle" font-weight="normal" fill="#000" >97</text>
<text x="617.20" y="744.70" font-size="8.6" text-anchor="middle" font-weight="normal" fill="#000" >0.04x</text>
<text x="617.20" y="753.80" font-size="8.6" text-anchor="middle" font-weight="normal" fill="#000" >61</text>
<text x="643.70" y="735.70" font-size="8.6" text-anchor="middle" font-weight="normal" fill="#000" >**</text>
<text x="643.70" y="744.70" font-size="8.6" text-anchor="middle" font-weight="normal" fill="#000" >0.07x</text>
<text x="643.70" y="753.80" font-size="8.6" text-anchor="middle" font-weight="normal" fill="#000" >110</text>
<circle cx="378.70" cy="802.20" r="3.4" fill="rgb(210,102,88)" fill-opacity="0.6"/>
<circle cx="378.70" cy="805.20" r="3.4" fill="rgb(210,102,88)" fill-opacity="0.6"/>
<circle cx="378.70" cy="815.40" r="3.4" fill="rgb(210,102,88)" fill-opacity="0.6"/>
<circle cx="378.70" cy="817.00" r="3.4" fill="rgb(210,102,88)" fill-opacity="0.6"/>
<circle cx="378.70" cy="824.60" r="3.4" fill="rgb(210,102,88)" fill-opacity="0.6"/>
<circle cx="378.70" cy="826.20" r="3.4" fill="rgb(210,102,88)" fill-opacity="0.6"/>
<circle cx="378.70" cy="832.30" r="3.4" fill="rgb(210,102,88)" fill-opacity="0.6"/>
<circle cx="405.20" cy="808.30" r="3.4" fill="rgb(50,105,160)" fill-opacity="0.6"/>
<circle cx="405.20" cy="802.20" r="3.4" fill="rgb(50,105,160)" fill-opacity="0.6"/>
<circle cx="405.20" cy="839.80" r="3.4" fill="rgb(50,105,160)" fill-opacity="0.6"/>
<circle cx="405.20" cy="825.00" r="3.4" fill="rgb(50,105,160)" fill-opacity="0.6"/>
<circle cx="405.20" cy="814.00" r="3.4" fill="rgb(50,105,160)" fill-opacity="0.6"/>
<circle cx="405.20" cy="818.00" r="3.4" fill="rgb(50,105,160)" fill-opacity="0.6"/>
<circle cx="405.20" cy="822.00" r="3.4" fill="rgb(50,105,160)" fill-opacity="0.6"/>
<circle cx="431.70" cy="813.20" r="3.4" fill="rgb(63,155,238)" fill-opacity="0.6"/>
<circle cx="431.70" cy="816.20" r="3.4" fill="rgb(63,155,238)" fill-opacity="0.6"/>
<circle cx="431.70" cy="843.80" r="3.4" fill="rgb(63,155,238)" fill-opacity="0.6"/>
<circle cx="431.70" cy="839.20" r="3.4" fill="rgb(63,155,238)" fill-opacity="0.6"/>
<circle cx="431.70" cy="822.90" r="3.4" fill="rgb(63,155,238)" fill-opacity="0.6"/>
<circle cx="431.70" cy="825.40" r="3.4" fill="rgb(63,155,238)" fill-opacity="0.6"/>
<circle cx="431.70" cy="828.00" r="3.4" fill="rgb(63,155,238)" fill-opacity="0.6"/>
<circle cx="458.20" cy="819.30" r="3.4" fill="rgb(130,200,243)" fill-opacity="0.6"/>
<circle cx="458.20" cy="831.00" r="3.4" fill="rgb(130,200,243)" fill-opacity="0.6"/>
<circle cx="458.20" cy="849.50" r="3.4" fill="rgb(130,200,243)" fill-opacity="0.6"/>
<circle cx="458.20" cy="846.90" r="3.4" fill="rgb(130,200,243)" fill-opacity="0.6"/>
<circle cx="458.20" cy="822.90" r="3.4" fill="rgb(130,200,243)" fill-opacity="0.6"/>
<circle cx="458.20" cy="821.00" r="3.4" fill="rgb(130,200,243)" fill-opacity="0.6"/>
<circle cx="458.20" cy="833.00" r="3.4" fill="rgb(130,200,243)" fill-opacity="0.6"/>
<circle cx="484.70" cy="814.00" r="3.4" fill="rgb(205,163,55)" fill-opacity="0.6"/>
<circle cx="484.70" cy="827.00" r="3.4" fill="rgb(205,163,55)" fill-opacity="0.6"/>
<circle cx="484.70" cy="841.80" r="3.4" fill="rgb(205,163,55)" fill-opacity="0.6"/>
<circle cx="484.70" cy="840.30" r="3.4" fill="rgb(205,163,55)" fill-opacity="0.6"/>
<circle cx="484.70" cy="823.90" r="3.4" fill="rgb(205,163,55)" fill-opacity="0.6"/>
<circle cx="484.70" cy="835.70" r="3.4" fill="rgb(205,163,55)" fill-opacity="0.6"/>
<circle cx="484.70" cy="848.40" r="3.4" fill="rgb(205,163,55)" fill-opacity="0.6"/>
<circle cx="511.20" cy="823.40" r="3.4" fill="rgb(172,80,230)" fill-opacity="0.6"/>
<circle cx="511.20" cy="839.50" r="3.4" fill="rgb(172,80,230)" fill-opacity="0.6"/>
<circle cx="511.20" cy="863.80" r="3.4" fill="rgb(172,80,230)" fill-opacity="0.6"/>
<circle cx="511.20" cy="859.20" r="3.4" fill="rgb(172,80,230)" fill-opacity="0.6"/>
<circle cx="511.20" cy="825.40" r="3.4" fill="rgb(172,80,230)" fill-opacity="0.6"/>
<circle cx="511.20" cy="847.90" r="3.4" fill="rgb(172,80,230)" fill-opacity="0.6"/>
<circle cx="511.20" cy="868.90" r="3.4" fill="rgb(172,80,230)" fill-opacity="0.6"/>
<circle cx="537.70" cy="837.40" r="3.4" fill="rgb(200,55,240)" fill-opacity="0.6"/>
<circle cx="537.70" cy="840.40" r="3.4" fill="rgb(200,55,240)" fill-opacity="0.6"/>
<circle cx="537.70" cy="859.00" r="3.4" fill="rgb(200,55,240)" fill-opacity="0.6"/>
<circle cx="537.70" cy="857.00" r="3.4" fill="rgb(200,55,240)" fill-opacity="0.6"/>
<circle cx="537.70" cy="842.50" r="3.4" fill="rgb(200,55,240)" fill-opacity="0.6"/>
<circle cx="537.70" cy="830.70" r="3.4" fill="rgb(200,55,240)" fill-opacity="0.6"/>
<circle cx="537.70" cy="866.00" r="3.4" fill="rgb(200,55,240)" fill-opacity="0.6"/>
<circle cx="564.20" cy="852.70" r="3.4" fill="rgb(105,72,155)" fill-opacity="0.6"/>
<circle cx="564.20" cy="848.80" r="3.4" fill="rgb(105,72,155)" fill-opacity="0.6"/>
<circle cx="564.20" cy="865.00" r="3.4" fill="rgb(105,72,155)" fill-opacity="0.6"/>
<circle cx="564.20" cy="863.40" r="3.4" fill="rgb(105,72,155)" fill-opacity="0.6"/>
<circle cx="564.20" cy="855.30" r="3.4" fill="rgb(105,72,155)" fill-opacity="0.6"/>
<circle cx="564.20" cy="839.60" r="3.4" fill="rgb(105,72,155)" fill-opacity="0.6"/>
<circle cx="564.20" cy="857.50" r="3.4" fill="rgb(105,72,155)" fill-opacity="0.6"/>
<circle cx="590.70" cy="853.00" r="3.4" fill="rgb(147,97,180)" fill-opacity="0.6"/>
<circle cx="590.70" cy="846.20" r="3.4" fill="rgb(147,97,180)" fill-opacity="0.6"/>
<circle cx="590.70" cy="887.30" r="3.4" fill="rgb(147,97,180)" fill-opacity="0.6"/>
<circle cx="590.70" cy="887.30" r="3.4" fill="rgb(147,97,180)" fill-opacity="0.6"/>
<circle cx="590.70" cy="867.00" r="3.4" fill="rgb(147,97,180)" fill-opacity="0.6"/>
<circle cx="590.70" cy="840.00" r="3.4" fill="rgb(147,97,180)" fill-opacity="0.6"/>
<circle cx="590.70" cy="868.20" r="3.4" fill="rgb(147,97,180)" fill-opacity="0.6"/>
<circle cx="617.20" cy="856.40" r="3.4" fill="rgb(230,163,205)" fill-opacity="0.6"/>
<circle cx="617.20" cy="861.80" r="3.4" fill="rgb(230,163,205)" fill-opacity="0.6"/>
<circle cx="617.20" cy="887.30" r="3.4" fill="rgb(230,163,205)" fill-opacity="0.6"/>
<circle cx="617.20" cy="887.30" r="3.4" fill="rgb(230,163,205)" fill-opacity="0.6"/>
<circle cx="617.20" cy="872.20" r="3.4" fill="rgb(230,163,205)" fill-opacity="0.6"/>
<circle cx="617.20" cy="848.20" r="3.4" fill="rgb(230,163,205)" fill-opacity="0.6"/>
<circle cx="617.20" cy="887.30" r="3.4" fill="rgb(230,163,205)" fill-opacity="0.6"/>
<circle cx="643.70" cy="870.20" r="3.4" fill="rgb(105,147,63)" fill-opacity="0.6"/>
<circle cx="643.70" cy="873.20" r="3.4" fill="rgb(105,147,63)" fill-opacity="0.6"/>
<circle cx="643.70" cy="880.90" r="3.4" fill="rgb(105,147,63)" fill-opacity="0.6"/>
<circle cx="643.70" cy="878.90" r="3.4" fill="rgb(105,147,63)" fill-opacity="0.6"/>
<circle cx="643.70" cy="835.40" r="3.4" fill="rgb(105,147,63)" fill-opacity="0.6"/>
<circle cx="643.70" cy="825.70" r="3.4" fill="rgb(105,147,63)" fill-opacity="0.6"/>
<circle cx="643.70" cy="876.30" r="3.4" fill="rgb(105,147,63)" fill-opacity="0.6"/>
<polyline points="378.70,802.20 405.20,808.30 431.70,813.20 458.20,819.30 484.70,814.00 511.20,823.40 537.70,837.40 564.20,852.70 590.70,853.00 617.20,856.40 643.70,870.20" fill="none" stroke="#d4d4d4" stroke-width="0.7"/>
<polyline points="378.70,805.20 405.20,802.20 431.70,816.20 458.20,831.00 484.70,827.00 511.20,839.50 537.70,840.40 564.20,848.80 590.70,846.20 617.20,861.80 643.70,873.20" fill="none" stroke="#d4d4d4" stroke-width="0.7"/>
<polyline points="378.70,815.40 405.20,839.80 431.70,843.80 458.20,849.50 484.70,841.80 511.20,863.80 537.70,859.00 564.20,865.00 590.70,887.30 617.20,887.30 643.70,880.90" fill="none" stroke="#d4d4d4" stroke-width="0.7"/>
<polyline points="378.70,817.00 405.20,825.00 431.70,839.20 458.20,846.90 484.70,840.30 511.20,859.20 537.70,857.00 564.20,863.40 590.70,887.30 617.20,887.30 643.70,878.90" fill="none" stroke="#d4d4d4" stroke-width="0.7"/>
<polyline points="378.70,824.60 405.20,814.00 431.70,822.90 458.20,822.90 484.70,823.90 511.20,825.40 537.70,842.50 564.20,855.30 590.70,867.00 617.20,872.20 643.70,835.40" fill="none" stroke="#d4d4d4" stroke-width="0.7"/>
<polyline points="378.70,826.20 405.20,818.00 431.70,825.40 458.20,821.00 484.70,835.70 511.20,847.90 537.70,830.70 564.20,839.60 590.70,840.00 617.20,848.20 643.70,825.70" fill="none" stroke="#d4d4d4" stroke-width="0.7"/>
<polyline points="378.70,832.30 405.20,822.00 431.70,828.00 458.20,833.00 484.70,848.40 511.20,868.90 537.70,866.00 564.20,857.50 590.70,868.20 617.20,887.30 643.70,876.30" fill="none" stroke="#d4d4d4" stroke-width="0.7"/>
<rect x="371.20" y="818.30" width="15" height="1.85" fill="#000"/>
<rect x="397.70" y="819.90" width="15" height="1.85" fill="#000"/>
<rect x="424.20" y="827.90" width="15" height="1.85" fill="#000"/>
<rect x="450.70" y="833.30" width="15" height="1.85" fill="#000"/>
<rect x="477.20" y="835.30" width="15" height="1.85" fill="#000"/>
<rect x="503.70" y="847.90" width="15" height="1.85" fill="#000"/>
<rect x="530.20" y="847.90" width="15" height="1.85" fill="#000"/>
<rect x="556.70" y="856.70" width="15" height="1.85" fill="#000"/>
<rect x="583.20" y="864.90" width="15" height="1.85" fill="#000"/>
<rect x="609.70" y="872.30" width="15" height="1.85" fill="#000"/>
<rect x="636.20" y="862.90" width="15" height="1.85" fill="#000"/>
<text transform="translate(24.1,263.10) rotate(-90)" font-size="10.5" text-anchor="middle">pVNT<tspan font-size="7" dy="1.8">50</tspan><tspan dy="-1.8"> Titer</tspan></text>
<text transform="translate(24.1,537.10) rotate(-90)" font-size="10.5" text-anchor="middle">pVNT<tspan font-size="7" dy="1.8">50</tspan><tspan dy="-1.8"> Titer</tspan></text>
<text transform="translate(24.1,810.90) rotate(-90)" font-size="10.5" text-anchor="middle">pVNT<tspan font-size="7" dy="1.8">50</tspan><tspan dy="-1.8"> Titer</tspan></text>
</svg>
</body></html>
